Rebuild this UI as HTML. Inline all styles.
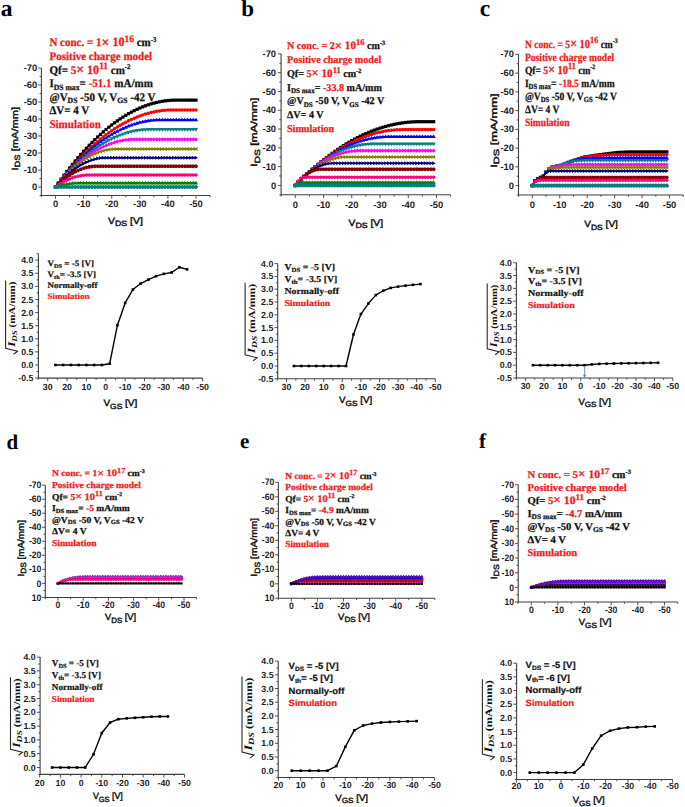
<!DOCTYPE html><html><head><meta charset="utf-8"><style>html,body{margin:0;padding:0;background:#fff;overflow:hidden}svg{display:block}</style></head><body><svg width="685" height="807" viewBox="0 0 685 807" text-rendering="geometricPrecision"><rect width="685" height="807" fill="#fff"/><defs><marker id="m_sq_000000_100" markerUnits="userSpaceOnUse" markerWidth="1" markerHeight="1" refX="0" refY="0" overflow="visible"><g fill="#000000"><rect x="-1.6" y="-1.6" width="3.2" height="3.2"/></g></marker><marker id="m_ci_ff0000_100" markerUnits="userSpaceOnUse" markerWidth="1" markerHeight="1" refX="0" refY="0" overflow="visible"><g fill="#ff0000"><circle r="1.75"/></g></marker><marker id="m_tu_0000ff_100" markerUnits="userSpaceOnUse" markerWidth="1" markerHeight="1" refX="0" refY="0" overflow="visible"><g fill="#0000ff"><path d="M0,-2.1L2,1.5H-2Z"/></g></marker><marker id="m_td_008080_100" markerUnits="userSpaceOnUse" markerWidth="1" markerHeight="1" refX="0" refY="0" overflow="visible"><g fill="#008080"><path d="M0,2.1L2,-1.5H-2Z"/></g></marker><marker id="m_di_ff00ff_100" markerUnits="userSpaceOnUse" markerWidth="1" markerHeight="1" refX="0" refY="0" overflow="visible"><g fill="#ff00ff"><path d="M0,-2.1L1.9,0L0,2.1L-1.9,0Z"/></g></marker><marker id="m_tl_808000_100" markerUnits="userSpaceOnUse" markerWidth="1" markerHeight="1" refX="0" refY="0" overflow="visible"><g fill="#808000"><path d="M-2.1,0L1.5,-2V2Z"/></g></marker><marker id="m_tr_000080_100" markerUnits="userSpaceOnUse" markerWidth="1" markerHeight="1" refX="0" refY="0" overflow="visible"><g fill="#000080"><path d="M2.1,0L-1.5,-2V2Z"/></g></marker><marker id="m_hx_800000_100" markerUnits="userSpaceOnUse" markerWidth="1" markerHeight="1" refX="0" refY="0" overflow="visible"><g fill="#800000"><path d="M-1,-1.8H1L2,0L1,1.8H-1L-2,0Z"/></g></marker><marker id="m_ci_ff0080_100" markerUnits="userSpaceOnUse" markerWidth="1" markerHeight="1" refX="0" refY="0" overflow="visible"><g fill="#ff0080"><circle r="1.75"/></g></marker><marker id="m_tu_008000_100" markerUnits="userSpaceOnUse" markerWidth="1" markerHeight="1" refX="0" refY="0" overflow="visible"><g fill="#008000"><path d="M0,-2.1L2,1.5H-2Z"/></g></marker><marker id="m_di_7a3fd0_100" markerUnits="userSpaceOnUse" markerWidth="1" markerHeight="1" refX="0" refY="0" overflow="visible"><g fill="#7a3fd0"><path d="M0,-2.1L1.9,0L0,2.1L-1.9,0Z"/></g></marker><marker id="m_hx_008080_100" markerUnits="userSpaceOnUse" markerWidth="1" markerHeight="1" refX="0" refY="0" overflow="visible"><g fill="#008080"><path d="M-1,-1.8H1L2,0L1,1.8H-1L-2,0Z"/></g></marker><marker id="m_tr_000080_85" markerUnits="userSpaceOnUse" markerWidth="1" markerHeight="1" refX="0" refY="0" overflow="visible"><g fill="#000080" transform="scale(0.85)"><path d="M2.1,0L-1.5,-2V2Z"/></g></marker><marker id="m_di_7a3fd0_85" markerUnits="userSpaceOnUse" markerWidth="1" markerHeight="1" refX="0" refY="0" overflow="visible"><g fill="#7a3fd0" transform="scale(0.85)"><path d="M0,-2.1L1.9,0L0,2.1L-1.9,0Z"/></g></marker><marker id="m_di_ff00ff_85" markerUnits="userSpaceOnUse" markerWidth="1" markerHeight="1" refX="0" refY="0" overflow="visible"><g fill="#ff00ff" transform="scale(0.85)"><path d="M0,-2.1L1.9,0L0,2.1L-1.9,0Z"/></g></marker><marker id="m_ci_ff0080_85" markerUnits="userSpaceOnUse" markerWidth="1" markerHeight="1" refX="0" refY="0" overflow="visible"><g fill="#ff0080" transform="scale(0.85)"><circle r="1.75"/></g></marker><marker id="m_sm_000000_85" markerUnits="userSpaceOnUse" markerWidth="1" markerHeight="1" refX="0" refY="0" overflow="visible"><g fill="#000000" transform="scale(0.85)"><rect x="-1.35" y="-1.35" width="2.7" height="2.7"/></g></marker><marker id="m_hx_800000_85" markerUnits="userSpaceOnUse" markerWidth="1" markerHeight="1" refX="0" refY="0" overflow="visible"><g fill="#800000" transform="scale(0.85)"><path d="M-1,-1.8H1L2,0L1,1.8H-1L-2,0Z"/></g></marker><marker id="m_ci_ff0000_85" markerUnits="userSpaceOnUse" markerWidth="1" markerHeight="1" refX="0" refY="0" overflow="visible"><g fill="#ff0000" transform="scale(0.85)"><circle r="1.75"/></g></marker><marker id="m_tu_0000ff_85" markerUnits="userSpaceOnUse" markerWidth="1" markerHeight="1" refX="0" refY="0" overflow="visible"><g fill="#0000ff" transform="scale(0.85)"><path d="M0,-2.1L2,1.5H-2Z"/></g></marker><marker id="m_di_5a10b0_85" markerUnits="userSpaceOnUse" markerWidth="1" markerHeight="1" refX="0" refY="0" overflow="visible"><g fill="#5a10b0" transform="scale(0.85)"><path d="M0,-2.1L1.9,0L0,2.1L-1.9,0Z"/></g></marker><marker id="m_tl_808000_85" markerUnits="userSpaceOnUse" markerWidth="1" markerHeight="1" refX="0" refY="0" overflow="visible"><g fill="#808000" transform="scale(0.85)"><path d="M-2.1,0L1.5,-2V2Z"/></g></marker><marker id="m_bs_000000_100" markerUnits="userSpaceOnUse" markerWidth="1" markerHeight="1" refX="0" refY="0" overflow="visible"><g fill="#000000"><rect x="-1.3" y="-1.3" width="2.6" height="2.6"/></g></marker></defs><path d="M41.40,68.00V195.50H210.05" fill="none" stroke="#404040" stroke-width="1.1"/><path d="M38.20,68.00H41.40M38.20,85.00H41.40M38.20,102.00H41.40M38.20,119.00H41.40M38.20,136.00H41.40M38.20,153.00H41.40M38.20,170.00H41.40M38.20,187.00H41.40M39.60,76.50H41.40M39.60,93.50H41.40M39.60,110.50H41.40M39.60,127.50H41.40M39.60,144.50H41.40M39.60,161.50H41.40M39.60,178.50H41.40M39.60,195.50H41.40M55.50,195.50V198.70M83.60,195.50V198.70M111.70,195.50V198.70M139.80,195.50V198.70M167.90,195.50V198.70M196.00,195.50V198.70M41.45,195.50V197.30M69.55,195.50V197.30M97.65,195.50V197.30M125.75,195.50V197.30M153.85,195.50V197.30M181.95,195.50V197.30M210.05,195.50V197.30" fill="none" stroke="#404040" stroke-width="0.9"/><g font-family='"Liberation Sans", sans-serif' font-weight="bold" font-size="9.4" fill="#1c1c1c"><text transform="translate(37.20,71.10) scale(1.0,1)" text-anchor="end">-70</text><text transform="translate(37.20,88.10) scale(1.0,1)" text-anchor="end">-60</text><text transform="translate(37.20,105.10) scale(1.0,1)" text-anchor="end">-50</text><text transform="translate(37.20,122.10) scale(1.0,1)" text-anchor="end">-40</text><text transform="translate(37.20,139.10) scale(1.0,1)" text-anchor="end">-30</text><text transform="translate(37.20,156.10) scale(1.0,1)" text-anchor="end">-20</text><text transform="translate(37.20,173.10) scale(1.0,1)" text-anchor="end">-10</text><text transform="translate(37.20,190.10) scale(1.0,1)" text-anchor="end">0</text><text transform="translate(55.50,207.00) scale(1.0,1)" text-anchor="middle">0</text><text transform="translate(83.60,207.00) scale(1.0,1)" text-anchor="middle">-10</text><text transform="translate(111.70,207.00) scale(1.0,1)" text-anchor="middle">-20</text><text transform="translate(139.80,207.00) scale(1.0,1)" text-anchor="middle">-30</text><text transform="translate(167.90,207.00) scale(1.0,1)" text-anchor="middle">-40</text><text transform="translate(196.00,207.00) scale(1.0,1)" text-anchor="middle">-50</text></g><polyline points="55.50,187.00 58.31,183.01 61.12,179.11 63.93,175.30 66.74,171.59 69.55,167.97 72.36,164.45 75.17,161.02 77.98,157.68 80.79,154.44 83.60,151.29 86.41,148.24 89.22,145.28 92.03,142.41 94.84,139.64 97.65,136.96 100.46,134.38 103.27,131.89 106.08,129.49 108.89,127.19 111.70,124.98 114.51,122.87 117.32,120.85 120.13,118.92 122.94,117.09 125.75,115.35 128.56,113.71 131.37,112.16 134.18,110.70 136.99,109.34 139.80,108.07 142.61,106.90 145.42,105.81 148.23,104.83 151.04,103.94 153.85,103.14 156.66,102.43 159.47,101.82 162.28,101.30 165.09,100.88 167.90,100.55 170.71,100.32 173.52,100.18 176.33,100.13 179.14,100.13 181.95,100.13 184.76,100.13 187.57,100.13 190.38,100.13 193.19,100.13 196.00,100.13" fill="none" stroke="#000000" stroke-width="1.6" stroke-linejoin="round" marker-start="url(#m_sq_000000_100)" marker-mid="url(#m_sq_000000_100)" marker-end="url(#m_sq_000000_100)"/><polyline points="55.50,187.00 58.31,183.33 61.12,179.76 63.93,176.27 66.74,172.87 69.55,169.56 72.36,166.34 75.17,163.21 77.98,160.17 80.79,157.22 83.60,154.36 86.41,151.59 89.22,148.90 92.03,146.31 94.84,143.81 97.65,141.39 100.46,139.07 103.27,136.83 106.08,134.68 108.89,132.63 111.70,130.66 114.51,128.78 117.32,126.99 120.13,125.29 122.94,123.68 125.75,122.16 128.56,120.73 131.37,119.39 134.18,118.14 136.99,116.98 139.80,115.90 142.61,114.92 145.42,114.03 148.23,113.22 151.04,112.51 153.85,111.88 156.66,111.34 159.47,110.90 162.28,110.54 165.09,110.27 167.90,110.09 170.71,110.00 173.52,109.99 176.33,109.99 179.14,109.99 181.95,109.99 184.76,109.99 187.57,109.99 190.38,109.99 193.19,109.99 196.00,109.99" fill="none" stroke="#ff0000" stroke-width="1.6" stroke-linejoin="round" marker-start="url(#m_ci_ff0000_100)" marker-mid="url(#m_ci_ff0000_100)" marker-end="url(#m_ci_ff0000_100)"/><polyline points="55.50,187.00 58.31,183.46 61.12,180.01 63.93,176.66 66.74,173.40 69.55,170.24 72.36,167.18 75.17,164.21 77.98,161.34 80.79,158.56 83.60,155.88 86.41,153.30 89.22,150.81 92.03,148.42 94.84,146.12 97.65,143.92 100.46,141.81 103.27,139.80 106.08,137.88 108.89,136.06 111.70,134.34 114.51,132.71 117.32,131.18 120.13,129.75 122.94,128.40 125.75,127.16 128.56,126.01 131.37,124.96 134.18,124.00 136.99,123.14 139.80,122.37 142.61,121.70 145.42,121.13 148.23,120.65 151.04,120.27 153.85,119.98 156.66,119.79 159.47,119.69 162.28,119.68 165.09,119.68 167.90,119.68 170.71,119.68 173.52,119.68 176.33,119.68 179.14,119.68 181.95,119.68 184.76,119.68 187.57,119.68 190.38,119.68 193.19,119.68 196.00,119.68" fill="none" stroke="#0000ff" stroke-width="1.6" stroke-linejoin="round" marker-start="url(#m_tu_0000ff_100)" marker-mid="url(#m_tu_0000ff_100)" marker-end="url(#m_tu_0000ff_100)"/><polyline points="55.50,187.00 58.31,183.62 61.12,180.34 63.93,177.17 66.74,174.10 69.55,171.13 72.36,168.26 75.17,165.50 77.98,162.83 80.79,160.27 83.60,157.82 86.41,155.46 89.22,153.21 92.03,151.06 94.84,149.01 97.65,147.06 100.46,145.22 103.27,143.48 106.08,141.84 108.89,140.30 111.70,138.87 114.51,137.54 117.32,136.31 120.13,135.18 122.94,134.16 125.75,133.24 128.56,132.42 131.37,131.70 134.18,131.09 136.99,130.58 139.80,130.17 142.61,129.86 145.42,129.66 148.23,129.55 151.04,129.54 153.85,129.54 156.66,129.54 159.47,129.54 162.28,129.54 165.09,129.54 167.90,129.54 170.71,129.54 173.52,129.54 176.33,129.54 179.14,129.54 181.95,129.54 184.76,129.54 187.57,129.54 190.38,129.54 193.19,129.54 196.00,129.54" fill="none" stroke="#008080" stroke-width="1.6" stroke-linejoin="round" marker-start="url(#m_td_008080_100)" marker-mid="url(#m_td_008080_100)" marker-end="url(#m_td_008080_100)"/><polyline points="55.50,187.00 58.31,183.66 61.12,180.44 63.93,177.35 66.74,174.37 69.55,171.52 72.36,168.79 75.17,166.18 77.98,163.69 80.79,161.32 83.60,159.07 86.41,156.95 89.22,154.94 92.03,153.06 94.84,151.30 97.65,149.66 100.46,148.14 103.27,146.75 106.08,145.47 108.89,144.32 111.70,143.29 114.51,142.38 117.32,141.59 120.13,140.92 122.94,140.37 125.75,139.95 128.56,139.64 131.37,139.46 134.18,139.40 136.99,139.40 139.80,139.40 142.61,139.40 145.42,139.40 148.23,139.40 151.04,139.40 153.85,139.40 156.66,139.40 159.47,139.40 162.28,139.40 165.09,139.40 167.90,139.40 170.71,139.40 173.52,139.40 176.33,139.40 179.14,139.40 181.95,139.40 184.76,139.40 187.57,139.40 190.38,139.40 193.19,139.40 196.00,139.40" fill="none" stroke="#ff00ff" stroke-width="1.6" stroke-linejoin="round" marker-start="url(#m_di_ff00ff_100)" marker-mid="url(#m_di_ff00ff_100)" marker-end="url(#m_di_ff00ff_100)"/><polyline points="55.50,187.00 58.31,183.56 61.12,180.28 63.93,177.16 66.74,174.21 69.55,171.42 72.36,168.79 75.17,166.33 77.98,164.04 80.79,161.90 83.60,159.94 86.41,158.13 89.22,156.49 92.03,155.02 94.84,153.70 97.65,152.56 100.46,151.57 103.27,150.75 106.08,150.09 108.89,149.60 111.70,149.27 114.51,149.11 117.32,149.09 120.13,149.09 122.94,149.09 125.75,149.09 128.56,149.09 131.37,149.09 134.18,149.09 136.99,149.09 139.80,149.09 142.61,149.09 145.42,149.09 148.23,149.09 151.04,149.09 153.85,149.09 156.66,149.09 159.47,149.09 162.28,149.09 165.09,149.09 167.90,149.09 170.71,149.09 173.52,149.09 176.33,149.09 179.14,149.09 181.95,149.09 184.76,149.09 187.57,149.09 190.38,149.09 193.19,149.09 196.00,149.09" fill="none" stroke="#808000" stroke-width="1.6" stroke-linejoin="round" marker-start="url(#m_tl_808000_100)" marker-mid="url(#m_tl_808000_100)" marker-end="url(#m_tl_808000_100)"/><polyline points="55.50,187.00 58.31,183.84 61.12,180.86 63.93,178.07 66.74,175.45 69.55,173.01 72.36,170.76 75.17,168.68 77.98,166.78 80.79,165.07 83.60,163.54 86.41,162.18 89.22,161.01 92.03,160.02 94.84,159.20 97.65,158.57 100.46,158.12 103.27,157.85 106.08,157.76 108.89,157.76 111.70,157.76 114.51,157.76 117.32,157.76 120.13,157.76 122.94,157.76 125.75,157.76 128.56,157.76 131.37,157.76 134.18,157.76 136.99,157.76 139.80,157.76 142.61,157.76 145.42,157.76 148.23,157.76 151.04,157.76 153.85,157.76 156.66,157.76 159.47,157.76 162.28,157.76 165.09,157.76 167.90,157.76 170.71,157.76 173.52,157.76 176.33,157.76 179.14,157.76 181.95,157.76 184.76,157.76 187.57,157.76 190.38,157.76 193.19,157.76 196.00,157.76" fill="none" stroke="#000080" stroke-width="1.6" stroke-linejoin="round" marker-start="url(#m_tr_000080_100)" marker-mid="url(#m_tr_000080_100)" marker-end="url(#m_tr_000080_100)"/><polyline points="55.50,187.00 58.31,184.24 61.12,181.67 63.93,179.31 66.74,177.14 69.55,175.16 72.36,173.39 75.17,171.81 77.98,170.43 80.79,169.24 83.60,168.26 86.41,167.47 89.22,166.88 92.03,166.48 94.84,166.28 97.65,166.26 100.46,166.26 103.27,166.26 106.08,166.26 108.89,166.26 111.70,166.26 114.51,166.26 117.32,166.26 120.13,166.26 122.94,166.26 125.75,166.26 128.56,166.26 131.37,166.26 134.18,166.26 136.99,166.26 139.80,166.26 142.61,166.26 145.42,166.26 148.23,166.26 151.04,166.26 153.85,166.26 156.66,166.26 159.47,166.26 162.28,166.26 165.09,166.26 167.90,166.26 170.71,166.26 173.52,166.26 176.33,166.26 179.14,166.26 181.95,166.26 184.76,166.26 187.57,166.26 190.38,166.26 193.19,166.26 196.00,166.26" fill="none" stroke="#800000" stroke-width="1.6" stroke-linejoin="round" marker-start="url(#m_hx_800000_100)" marker-mid="url(#m_hx_800000_100)" marker-end="url(#m_hx_800000_100)"/><polyline points="55.50,187.00 58.31,185.02 61.12,183.22 63.93,181.60 66.74,180.16 69.55,178.90 72.36,177.82 75.17,176.92 77.98,176.20 80.79,175.66 83.60,175.30 86.41,175.12 89.22,175.10 92.03,175.10 94.84,175.10 97.65,175.10 100.46,175.10 103.27,175.10 106.08,175.10 108.89,175.10 111.70,175.10 114.51,175.10 117.32,175.10 120.13,175.10 122.94,175.10 125.75,175.10 128.56,175.10 131.37,175.10 134.18,175.10 136.99,175.10 139.80,175.10 142.61,175.10 145.42,175.10 148.23,175.10 151.04,175.10 153.85,175.10 156.66,175.10 159.47,175.10 162.28,175.10 165.09,175.10 167.90,175.10 170.71,175.10 173.52,175.10 176.33,175.10 179.14,175.10 181.95,175.10 184.76,175.10 187.57,175.10 190.38,175.10 193.19,175.10 196.00,175.10" fill="none" stroke="#ff0080" stroke-width="1.6" stroke-linejoin="round" marker-start="url(#m_ci_ff0080_100)" marker-mid="url(#m_ci_ff0080_100)" marker-end="url(#m_ci_ff0080_100)"/><polyline points="55.50,187.00 58.31,186.04 61.12,185.22 63.93,184.51 66.74,183.94 69.55,183.49 72.36,183.18 75.17,182.98 77.98,182.92 80.79,182.92 83.60,182.92 86.41,182.92 89.22,182.92 92.03,182.92 94.84,182.92 97.65,182.92 100.46,182.92 103.27,182.92 106.08,182.92 108.89,182.92 111.70,182.92 114.51,182.92 117.32,182.92 120.13,182.92 122.94,182.92 125.75,182.92 128.56,182.92 131.37,182.92 134.18,182.92 136.99,182.92 139.80,182.92 142.61,182.92 145.42,182.92 148.23,182.92 151.04,182.92 153.85,182.92 156.66,182.92 159.47,182.92 162.28,182.92 165.09,182.92 167.90,182.92 170.71,182.92 173.52,182.92 176.33,182.92 179.14,182.92 181.95,182.92 184.76,182.92 187.57,182.92 190.38,182.92 193.19,182.92 196.00,182.92" fill="none" stroke="#008000" stroke-width="1.6" stroke-linejoin="round" marker-start="url(#m_tu_008000_100)" marker-mid="url(#m_tu_008000_100)" marker-end="url(#m_tu_008000_100)"/><polyline points="55.50,187.00 58.31,187.00 61.12,187.00 63.93,187.00 66.74,187.00 69.55,187.00 72.36,187.00 75.17,187.00 77.98,187.00 80.79,187.00 83.60,187.00 86.41,187.00 89.22,187.00 92.03,187.00 94.84,187.00 97.65,187.00 100.46,187.00 103.27,187.00 106.08,187.00 108.89,187.00 111.70,187.00 114.51,187.00 117.32,187.00 120.13,187.00 122.94,187.00 125.75,187.00 128.56,187.00 131.37,187.00 134.18,187.00 136.99,187.00 139.80,187.00 142.61,187.00 145.42,187.00 148.23,187.00 151.04,187.00 153.85,187.00 156.66,187.00 159.47,187.00 162.28,187.00 165.09,187.00 167.90,187.00 170.71,187.00 173.52,187.00 176.33,187.00 179.14,187.00 181.95,187.00 184.76,187.00 187.57,187.00 190.38,187.00 193.19,187.00 196.00,187.00" fill="none" stroke="#7a3fd0" stroke-width="1.6" stroke-linejoin="round" marker-start="url(#m_di_7a3fd0_100)" marker-mid="url(#m_di_7a3fd0_100)" marker-end="url(#m_di_7a3fd0_100)"/><polyline points="55.50,187.00 58.31,187.00 61.12,187.00 63.93,187.00 66.74,187.00 69.55,187.00 72.36,187.00 75.17,187.00 77.98,187.00 80.79,187.00 83.60,187.00 86.41,187.00 89.22,187.00 92.03,187.00 94.84,187.00 97.65,187.00 100.46,187.00 103.27,187.00 106.08,187.00 108.89,187.00 111.70,187.00 114.51,187.00 117.32,187.00 120.13,187.00 122.94,187.00 125.75,187.00 128.56,187.00 131.37,187.00 134.18,187.00 136.99,187.00 139.80,187.00 142.61,187.00 145.42,187.00 148.23,187.00 151.04,187.00 153.85,187.00 156.66,187.00 159.47,187.00 162.28,187.00 165.09,187.00 167.90,187.00 170.71,187.00 173.52,187.00 176.33,187.00 179.14,187.00 181.95,187.00 184.76,187.00 187.57,187.00 190.38,187.00 193.19,187.00 196.00,187.00" fill="none" stroke="#008080" stroke-width="1.6" stroke-linejoin="round" marker-start="url(#m_hx_008080_100)" marker-mid="url(#m_hx_008080_100)" marker-end="url(#m_hx_008080_100)"/><g transform="translate(49.40,46.40) scale(0.9497,1.0000)"><text font-family='"Liberation Serif", serif' font-weight="bold" xml:space="preserve"><tspan x="0.00" y="0.00" fill="#f21818" font-size="11.60" stroke="#f21818" stroke-width="0.25">N conc. = 1</tspan><tspan x="54.94" y="0.58" fill="#f21818" font-size="14.50" stroke="#f21818" stroke-width="0.25">×</tspan><tspan x="63.20" y="0.00" fill="#f21818" font-size="12.76" stroke="#f21818" stroke-width="0.25"> 10</tspan><tspan x="79.15" y="-4.64" fill="#f21818" font-size="9.86" stroke="#f21818" stroke-width="0.25">16</tspan><tspan x="89.01" y="0.00" fill="#111" font-size="11.60" stroke="#111" stroke-width="0.25"> cm</tspan><tspan x="106.72" y="-4.41" fill="#111" font-size="7.19" stroke="#111" stroke-width="0.25">-3</tspan></text></g><g transform="translate(49.40,60.00) scale(0.9497,1.0000)"><text font-family='"Liberation Serif", serif' font-weight="bold" xml:space="preserve"><tspan x="0.00" y="0.00" fill="#f21818" font-size="11.60" stroke="#f21818" stroke-width="0.25">Positive charge model</tspan></text></g><g transform="translate(49.40,73.60) scale(0.9497,1.0000)"><text font-family='"Liberation Serif", serif' font-weight="bold" xml:space="preserve"><tspan x="0.00" y="0.00" fill="#111" font-size="11.60" stroke="#111" stroke-width="0.25">Qf= </tspan><tspan x="22.40" y="0.00" fill="#f21818" font-size="11.60" stroke="#f21818" stroke-width="0.25">5</tspan><tspan x="28.20" y="0.58" fill="#f21818" font-size="14.50" stroke="#f21818" stroke-width="0.25">×</tspan><tspan x="36.46" y="0.00" fill="#f21818" font-size="12.76" stroke="#f21818" stroke-width="0.25"> 10</tspan><tspan x="52.41" y="-4.64" fill="#f21818" font-size="9.86" stroke="#f21818" stroke-width="0.25">11</tspan><tspan x="61.72" y="0.00" fill="#111" font-size="11.60" stroke="#111" stroke-width="0.25"> cm</tspan><tspan x="79.44" y="-4.41" fill="#111" font-size="7.19" stroke="#111" stroke-width="0.25">-2</tspan></text></g><g transform="translate(49.40,87.20) scale(0.9497,1.0000)"><text font-family='"Liberation Serif", serif' font-weight="bold" xml:space="preserve"><tspan x="0.00" y="0.00" fill="#111" font-size="11.60" stroke="#111" stroke-width="0.25">I</tspan><tspan x="4.51" y="2.32" fill="#111" font-size="8.12" stroke="#111" stroke-width="0.25">DS max</tspan><tspan x="31.81" y="0.00" fill="#111" font-size="11.60" stroke="#111" stroke-width="0.25">= </tspan><tspan x="41.32" y="0.00" fill="#f21818" font-size="11.60" stroke="#f21818" stroke-width="0.25">-51.1</tspan><tspan x="65.48" y="0.00" fill="#111" font-size="11.60" stroke="#111" stroke-width="0.25"> mA/mm</tspan></text></g><g transform="translate(49.40,100.80) scale(0.9497,1.0000)"><text font-family='"Liberation Serif", serif' font-weight="bold" xml:space="preserve"><tspan x="0.00" y="0.00" fill="#111" font-size="11.60" stroke="#111" stroke-width="0.25">@V</tspan><tspan x="19.17" y="2.32" fill="#111" font-size="8.12" stroke="#111" stroke-width="0.25">DS</tspan><tspan x="29.55" y="0.00" fill="#111" font-size="11.60" stroke="#111" stroke-width="0.25"> -50 V, V</tspan><tspan x="71.45" y="2.32" fill="#111" font-size="8.12" stroke="#111" stroke-width="0.25">GS</tspan><tspan x="82.28" y="0.00" fill="#111" font-size="11.60" stroke="#111" stroke-width="0.25"> -42 V</tspan></text></g><g transform="translate(49.40,114.40) scale(0.9497,1.0000)"><text font-family='"Liberation Serif", serif' font-weight="bold" xml:space="preserve"><tspan x="0.00" y="0.00" fill="#111" font-size="11.60" stroke="#111" stroke-width="0.25">ΔV= 4 V</tspan></text></g><g transform="translate(49.40,128.00) scale(0.9497,1.0000)"><text font-family='"Liberation Serif", serif' font-weight="bold" xml:space="preserve"><tspan x="0.00" y="0.00" fill="#f21818" font-size="11.60" stroke="#f21818" stroke-width="0.25">Simulation</tspan></text></g><text x="0.8" y="16" font-family='"Liberation Serif", serif' font-weight="bold" font-size="23.5" fill="#000">a</text><g transform="translate(17.80,170.50) rotate(-90) scale(1.2301,1.0000)"><text font-family='"Liberation Sans", sans-serif' font-weight="normal" xml:space="preserve"><tspan x="0.00" y="0.00" fill="#111" font-size="9.00" stroke="#111" stroke-width="0.4">I</tspan><tspan x="2.50" y="2.52" fill="#111" font-size="7.65" stroke="#111" stroke-width="0.4">DS</tspan><tspan x="13.13" y="0.00" fill="#111" font-size="9.00" stroke="#111" stroke-width="0.4"> [mA/mm]</tspan></text></g><g transform="translate(108.10,223.60) scale(1.1515,1.0000)"><text font-family='"Liberation Sans", sans-serif' font-weight="normal" xml:space="preserve"><tspan x="0.00" y="0.00" fill="#111" font-size="9.00" stroke="#111" stroke-width="0.4">V</tspan><tspan x="6.00" y="2.52" fill="#111" font-size="7.65" stroke="#111" stroke-width="0.4">DS</tspan><tspan x="16.63" y="0.00" fill="#111" font-size="9.00" stroke="#111" stroke-width="0.4"> [V]</tspan></text></g><path d="M281.10,53.87V194.80H450.62" fill="none" stroke="#404040" stroke-width="1.1"/><path d="M277.90,53.87H281.10M277.90,72.66H281.10M277.90,91.45H281.10M277.90,110.24H281.10M277.90,129.03H281.10M277.90,147.82H281.10M277.90,166.61H281.10M277.90,185.40H281.10M279.30,63.27H281.10M279.30,82.06H281.10M279.30,100.84H281.10M279.30,119.64H281.10M279.30,138.43H281.10M279.30,157.22H281.10M279.30,176.00H281.10M279.30,194.80H281.10M295.30,194.80V198.00M323.54,194.80V198.00M351.78,194.80V198.00M380.02,194.80V198.00M408.26,194.80V198.00M436.50,194.80V198.00M281.18,194.80V196.60M309.42,194.80V196.60M337.66,194.80V196.60M365.90,194.80V196.60M394.14,194.80V196.60M422.38,194.80V196.60M450.62,194.80V196.60" fill="none" stroke="#404040" stroke-width="0.9"/><g font-family='"Liberation Sans", sans-serif' font-weight="bold" font-size="9.4" fill="#1c1c1c"><text transform="translate(276.10,56.97) scale(1.0,1)" text-anchor="end">-70</text><text transform="translate(276.10,75.76) scale(1.0,1)" text-anchor="end">-60</text><text transform="translate(276.10,94.55) scale(1.0,1)" text-anchor="end">-50</text><text transform="translate(276.10,113.34) scale(1.0,1)" text-anchor="end">-40</text><text transform="translate(276.10,132.13) scale(1.0,1)" text-anchor="end">-30</text><text transform="translate(276.10,150.92) scale(1.0,1)" text-anchor="end">-20</text><text transform="translate(276.10,169.71) scale(1.0,1)" text-anchor="end">-10</text><text transform="translate(276.10,188.50) scale(1.0,1)" text-anchor="end">0</text><text transform="translate(295.30,207.60) scale(1.0,1)" text-anchor="middle">0</text><text transform="translate(323.54,207.60) scale(1.0,1)" text-anchor="middle">-10</text><text transform="translate(351.78,207.60) scale(1.0,1)" text-anchor="middle">-20</text><text transform="translate(380.02,207.60) scale(1.0,1)" text-anchor="middle">-30</text><text transform="translate(408.26,207.60) scale(1.0,1)" text-anchor="middle">-40</text><text transform="translate(436.50,207.60) scale(1.0,1)" text-anchor="middle">-50</text></g><polyline points="295.30,185.40 298.12,182.54 300.95,179.74 303.77,177.01 306.60,174.34 309.42,171.74 312.24,169.21 315.07,166.74 317.89,164.34 320.72,162.00 323.54,159.73 326.36,157.52 329.19,155.38 332.01,153.31 334.84,151.30 337.66,149.36 340.48,147.49 343.31,145.68 346.13,143.93 348.96,142.25 351.78,140.64 354.60,139.10 357.43,137.61 360.25,136.20 363.08,134.85 365.90,133.57 368.72,132.35 371.55,131.20 374.37,130.11 377.20,129.09 380.02,128.14 382.84,127.25 385.67,126.43 388.49,125.67 391.32,124.98 394.14,124.36 396.96,123.80 399.79,123.31 402.61,122.88 405.44,122.52 408.26,122.22 411.08,122.00 413.91,121.83 416.73,121.73 419.56,121.70 422.38,121.70 425.20,121.70 428.03,121.70 430.85,121.70 433.68,121.70" fill="none" stroke="#000000" stroke-width="1.6" stroke-linejoin="round" marker-start="url(#m_sq_000000_100)" marker-mid="url(#m_sq_000000_100)" marker-end="url(#m_sq_000000_100)"/><polyline points="295.30,185.40 298.12,182.51 300.95,179.71 303.77,176.97 306.60,174.32 309.42,171.74 312.24,169.24 315.07,166.81 317.89,164.46 320.72,162.19 323.54,159.99 326.36,157.87 329.19,155.83 332.01,153.86 334.84,151.97 337.66,150.16 340.48,148.42 343.31,146.76 346.13,145.18 348.96,143.67 351.78,142.24 354.60,140.89 357.43,139.61 360.25,138.41 363.08,137.29 365.90,136.24 368.72,135.27 371.55,134.38 374.37,133.56 377.20,132.82 380.02,132.15 382.84,131.57 385.67,131.05 388.49,130.62 391.32,130.26 394.14,129.98 396.96,129.77 399.79,129.65 402.61,129.59 405.44,129.59 408.26,129.59 411.08,129.59 413.91,129.59 416.73,129.59 419.56,129.59 422.38,129.59 425.20,129.59 428.03,129.59 430.85,129.59 433.68,129.59" fill="none" stroke="#ff0000" stroke-width="1.6" stroke-linejoin="round" marker-start="url(#m_ci_ff0000_100)" marker-mid="url(#m_ci_ff0000_100)" marker-end="url(#m_ci_ff0000_100)"/><polyline points="295.30,185.40 298.12,182.49 300.95,179.67 303.77,176.94 306.60,174.29 309.42,171.74 312.24,169.28 315.07,166.90 317.89,164.62 320.72,162.42 323.54,160.31 326.36,158.30 329.19,156.37 332.01,154.53 334.84,152.78 337.66,151.12 340.48,149.55 343.31,148.07 346.13,146.68 348.96,145.38 351.78,144.17 354.60,143.05 357.43,142.01 360.25,141.07 363.08,140.21 365.90,139.45 368.72,138.77 371.55,138.19 374.37,137.69 377.20,137.28 380.02,136.96 382.84,136.74 385.67,136.60 388.49,136.55 391.32,136.55 394.14,136.55 396.96,136.55 399.79,136.55 402.61,136.55 405.44,136.55 408.26,136.55 411.08,136.55 413.91,136.55 416.73,136.55 419.56,136.55 422.38,136.55 425.20,136.55 428.03,136.55 430.85,136.55 433.68,136.55" fill="none" stroke="#0000ff" stroke-width="1.6" stroke-linejoin="round" marker-start="url(#m_tu_0000ff_100)" marker-mid="url(#m_tu_0000ff_100)" marker-end="url(#m_tu_0000ff_100)"/><polyline points="295.30,185.40 298.12,182.45 300.95,179.61 303.77,176.88 306.60,174.26 309.42,171.75 312.24,169.34 315.07,167.05 317.89,164.86 320.72,162.79 323.54,160.82 326.36,158.96 329.19,157.21 332.01,155.57 334.84,154.04 337.66,152.62 340.48,151.31 343.31,150.11 346.13,149.01 348.96,148.03 351.78,147.15 354.60,146.39 357.43,145.73 360.25,145.18 363.08,144.74 365.90,144.41 368.72,144.19 371.55,144.08 374.37,144.06 377.20,144.06 380.02,144.06 382.84,144.06 385.67,144.06 388.49,144.06 391.32,144.06 394.14,144.06 396.96,144.06 399.79,144.06 402.61,144.06 405.44,144.06 408.26,144.06 411.08,144.06 413.91,144.06 416.73,144.06 419.56,144.06 422.38,144.06 425.20,144.06 428.03,144.06 430.85,144.06 433.68,144.06" fill="none" stroke="#008080" stroke-width="1.6" stroke-linejoin="round" marker-start="url(#m_td_008080_100)" marker-mid="url(#m_td_008080_100)" marker-end="url(#m_td_008080_100)"/><polyline points="295.30,185.40 298.12,182.40 300.95,179.54 303.77,176.81 306.60,174.22 309.42,171.77 312.24,169.44 315.07,167.26 317.89,165.21 320.72,163.29 323.54,161.51 326.36,159.86 329.19,158.35 332.01,156.97 334.84,155.73 337.66,154.63 340.48,153.66 343.31,152.82 346.13,152.12 348.96,151.56 351.78,151.13 354.60,150.83 357.43,150.67 360.25,150.64 363.08,150.64 365.90,150.64 368.72,150.64 371.55,150.64 374.37,150.64 377.20,150.64 380.02,150.64 382.84,150.64 385.67,150.64 388.49,150.64 391.32,150.64 394.14,150.64 396.96,150.64 399.79,150.64 402.61,150.64 405.44,150.64 408.26,150.64 411.08,150.64 413.91,150.64 416.73,150.64 419.56,150.64 422.38,150.64 425.20,150.64 428.03,150.64 430.85,150.64 433.68,150.64" fill="none" stroke="#ff00ff" stroke-width="1.6" stroke-linejoin="round" marker-start="url(#m_di_ff00ff_100)" marker-mid="url(#m_di_ff00ff_100)" marker-end="url(#m_di_ff00ff_100)"/><polyline points="295.30,185.40 298.12,182.33 300.95,179.44 303.77,176.72 306.60,174.18 309.42,171.82 312.24,169.63 315.07,167.61 317.89,165.77 320.72,164.11 323.54,162.62 326.36,161.31 329.19,160.17 332.01,159.21 334.84,158.42 337.66,157.81 340.48,157.37 343.31,157.11 346.13,157.03 348.96,157.03 351.78,157.03 354.60,157.03 357.43,157.03 360.25,157.03 363.08,157.03 365.90,157.03 368.72,157.03 371.55,157.03 374.37,157.03 377.20,157.03 380.02,157.03 382.84,157.03 385.67,157.03 388.49,157.03 391.32,157.03 394.14,157.03 396.96,157.03 399.79,157.03 402.61,157.03 405.44,157.03 408.26,157.03 411.08,157.03 413.91,157.03 416.73,157.03 419.56,157.03 422.38,157.03 425.20,157.03 428.03,157.03 430.85,157.03 433.68,157.03" fill="none" stroke="#808000" stroke-width="1.6" stroke-linejoin="round" marker-start="url(#m_tl_808000_100)" marker-mid="url(#m_tl_808000_100)" marker-end="url(#m_tl_808000_100)"/><polyline points="295.30,185.40 298.12,182.22 300.95,179.28 303.77,176.59 306.60,174.15 309.42,171.96 312.24,170.01 315.07,168.30 317.89,166.84 320.72,165.63 323.54,164.67 326.36,163.95 329.19,163.48 332.01,163.25 334.84,163.23 337.66,163.23 340.48,163.23 343.31,163.23 346.13,163.23 348.96,163.23 351.78,163.23 354.60,163.23 357.43,163.23 360.25,163.23 363.08,163.23 365.90,163.23 368.72,163.23 371.55,163.23 374.37,163.23 377.20,163.23 380.02,163.23 382.84,163.23 385.67,163.23 388.49,163.23 391.32,163.23 394.14,163.23 396.96,163.23 399.79,163.23 402.61,163.23 405.44,163.23 408.26,163.23 411.08,163.23 413.91,163.23 416.73,163.23 419.56,163.23 422.38,163.23 425.20,163.23 428.03,163.23 430.85,163.23 433.68,163.23" fill="none" stroke="#000080" stroke-width="1.6" stroke-linejoin="round" marker-start="url(#m_tr_000080_100)" marker-mid="url(#m_tr_000080_100)" marker-end="url(#m_tr_000080_100)"/><polyline points="295.30,185.40 298.12,182.01 300.95,179.01 303.77,176.42 306.60,174.22 309.42,172.43 312.24,171.03 315.07,170.03 317.89,169.44 320.72,169.24 323.54,169.24 326.36,169.24 329.19,169.24 332.01,169.24 334.84,169.24 337.66,169.24 340.48,169.24 343.31,169.24 346.13,169.24 348.96,169.24 351.78,169.24 354.60,169.24 357.43,169.24 360.25,169.24 363.08,169.24 365.90,169.24 368.72,169.24 371.55,169.24 374.37,169.24 377.20,169.24 380.02,169.24 382.84,169.24 385.67,169.24 388.49,169.24 391.32,169.24 394.14,169.24 396.96,169.24 399.79,169.24 402.61,169.24 405.44,169.24 408.26,169.24 411.08,169.24 413.91,169.24 416.73,169.24 419.56,169.24 422.38,169.24 425.20,169.24 428.03,169.24 430.85,169.24 433.68,169.24" fill="none" stroke="#800000" stroke-width="1.6" stroke-linejoin="round" marker-start="url(#m_hx_800000_100)" marker-mid="url(#m_hx_800000_100)" marker-end="url(#m_hx_800000_100)"/><polyline points="295.30,185.40 298.12,180.97 300.95,178.27 303.77,177.32 306.60,177.32 309.42,177.32 312.24,177.32 315.07,177.32 317.89,177.32 320.72,177.32 323.54,177.32 326.36,177.32 329.19,177.32 332.01,177.32 334.84,177.32 337.66,177.32 340.48,177.32 343.31,177.32 346.13,177.32 348.96,177.32 351.78,177.32 354.60,177.32 357.43,177.32 360.25,177.32 363.08,177.32 365.90,177.32 368.72,177.32 371.55,177.32 374.37,177.32 377.20,177.32 380.02,177.32 382.84,177.32 385.67,177.32 388.49,177.32 391.32,177.32 394.14,177.32 396.96,177.32 399.79,177.32 402.61,177.32 405.44,177.32 408.26,177.32 411.08,177.32 413.91,177.32 416.73,177.32 419.56,177.32 422.38,177.32 425.20,177.32 428.03,177.32 430.85,177.32 433.68,177.32" fill="none" stroke="#ff0080" stroke-width="1.6" stroke-linejoin="round" marker-start="url(#m_ci_ff0080_100)" marker-mid="url(#m_ci_ff0080_100)" marker-end="url(#m_ci_ff0080_100)"/><polyline points="295.30,185.40 298.12,183.15 300.95,182.39 303.77,182.39 306.60,182.39 309.42,182.39 312.24,182.39 315.07,182.39 317.89,182.39 320.72,182.39 323.54,182.39 326.36,182.39 329.19,182.39 332.01,182.39 334.84,182.39 337.66,182.39 340.48,182.39 343.31,182.39 346.13,182.39 348.96,182.39 351.78,182.39 354.60,182.39 357.43,182.39 360.25,182.39 363.08,182.39 365.90,182.39 368.72,182.39 371.55,182.39 374.37,182.39 377.20,182.39 380.02,182.39 382.84,182.39 385.67,182.39 388.49,182.39 391.32,182.39 394.14,182.39 396.96,182.39 399.79,182.39 402.61,182.39 405.44,182.39 408.26,182.39 411.08,182.39 413.91,182.39 416.73,182.39 419.56,182.39 422.38,182.39 425.20,182.39 428.03,182.39 430.85,182.39 433.68,182.39" fill="none" stroke="#008000" stroke-width="1.6" stroke-linejoin="round" marker-start="url(#m_tu_008000_100)" marker-mid="url(#m_tu_008000_100)" marker-end="url(#m_tu_008000_100)"/><polyline points="295.30,185.40 298.12,185.40 300.95,185.40 303.77,185.40 306.60,185.40 309.42,185.40 312.24,185.40 315.07,185.40 317.89,185.40 320.72,185.40 323.54,185.40 326.36,185.40 329.19,185.40 332.01,185.40 334.84,185.40 337.66,185.40 340.48,185.40 343.31,185.40 346.13,185.40 348.96,185.40 351.78,185.40 354.60,185.40 357.43,185.40 360.25,185.40 363.08,185.40 365.90,185.40 368.72,185.40 371.55,185.40 374.37,185.40 377.20,185.40 380.02,185.40 382.84,185.40 385.67,185.40 388.49,185.40 391.32,185.40 394.14,185.40 396.96,185.40 399.79,185.40 402.61,185.40 405.44,185.40 408.26,185.40 411.08,185.40 413.91,185.40 416.73,185.40 419.56,185.40 422.38,185.40 425.20,185.40 428.03,185.40 430.85,185.40 433.68,185.40" fill="none" stroke="#7a3fd0" stroke-width="1.6" stroke-linejoin="round" marker-start="url(#m_di_7a3fd0_100)" marker-mid="url(#m_di_7a3fd0_100)" marker-end="url(#m_di_7a3fd0_100)"/><polyline points="295.30,185.40 298.12,185.40 300.95,185.40 303.77,185.40 306.60,185.40 309.42,185.40 312.24,185.40 315.07,185.40 317.89,185.40 320.72,185.40 323.54,185.40 326.36,185.40 329.19,185.40 332.01,185.40 334.84,185.40 337.66,185.40 340.48,185.40 343.31,185.40 346.13,185.40 348.96,185.40 351.78,185.40 354.60,185.40 357.43,185.40 360.25,185.40 363.08,185.40 365.90,185.40 368.72,185.40 371.55,185.40 374.37,185.40 377.20,185.40 380.02,185.40 382.84,185.40 385.67,185.40 388.49,185.40 391.32,185.40 394.14,185.40 396.96,185.40 399.79,185.40 402.61,185.40 405.44,185.40 408.26,185.40 411.08,185.40 413.91,185.40 416.73,185.40 419.56,185.40 422.38,185.40 425.20,185.40 428.03,185.40 430.85,185.40 433.68,185.40" fill="none" stroke="#008080" stroke-width="1.6" stroke-linejoin="round" marker-start="url(#m_hx_008080_100)" marker-mid="url(#m_hx_008080_100)" marker-end="url(#m_hx_008080_100)"/><g transform="translate(287.00,49.40) scale(0.9717,1.0000)"><text font-family='"Liberation Serif", serif' font-weight="bold" xml:space="preserve"><tspan x="0.00" y="0.00" fill="#f21818" font-size="10.40" stroke="#f21818" stroke-width="0.25">N conc. = 2</tspan><tspan x="49.25" y="0.52" fill="#f21818" font-size="13.00" stroke="#f21818" stroke-width="0.25">×</tspan><tspan x="56.66" y="0.00" fill="#f21818" font-size="11.44" stroke="#f21818" stroke-width="0.25"> 10</tspan><tspan x="70.96" y="-4.16" fill="#f21818" font-size="8.84" stroke="#f21818" stroke-width="0.25">16</tspan><tspan x="79.80" y="0.00" fill="#111" font-size="10.40" stroke="#111" stroke-width="0.25"> cm</tspan><tspan x="95.68" y="-3.95" fill="#111" font-size="6.45" stroke="#111" stroke-width="0.25">-3</tspan></text></g><g transform="translate(287.00,63.17) scale(0.9717,1.0000)"><text font-family='"Liberation Serif", serif' font-weight="bold" xml:space="preserve"><tspan x="0.00" y="0.00" fill="#f21818" font-size="10.40" stroke="#f21818" stroke-width="0.25">Positive charge model</tspan></text></g><g transform="translate(287.00,76.94) scale(0.9717,1.0000)"><text font-family='"Liberation Serif", serif' font-weight="bold" xml:space="preserve"><tspan x="0.00" y="0.00" fill="#111" font-size="10.40" stroke="#111" stroke-width="0.25">Qf= </tspan><tspan x="20.08" y="0.00" fill="#f21818" font-size="10.40" stroke="#f21818" stroke-width="0.25">5</tspan><tspan x="25.28" y="0.52" fill="#f21818" font-size="13.00" stroke="#f21818" stroke-width="0.25">×</tspan><tspan x="32.69" y="0.00" fill="#f21818" font-size="11.44" stroke="#f21818" stroke-width="0.25"> 10</tspan><tspan x="46.99" y="-4.16" fill="#f21818" font-size="8.84" stroke="#f21818" stroke-width="0.25">11</tspan><tspan x="55.34" y="0.00" fill="#111" font-size="10.40" stroke="#111" stroke-width="0.25"> cm</tspan><tspan x="71.22" y="-3.95" fill="#111" font-size="6.45" stroke="#111" stroke-width="0.25">-2</tspan></text></g><g transform="translate(287.00,90.71) scale(0.9717,1.0000)"><text font-family='"Liberation Serif", serif' font-weight="bold" xml:space="preserve"><tspan x="0.00" y="0.00" fill="#111" font-size="10.40" stroke="#111" stroke-width="0.25">I</tspan><tspan x="4.05" y="2.08" fill="#111" font-size="7.28" stroke="#111" stroke-width="0.25">DS max</tspan><tspan x="28.52" y="0.00" fill="#111" font-size="10.40" stroke="#111" stroke-width="0.25">= </tspan><tspan x="37.04" y="0.00" fill="#f21818" font-size="10.40" stroke="#f21818" stroke-width="0.25">-33.8</tspan><tspan x="58.71" y="0.00" fill="#111" font-size="10.40" stroke="#111" stroke-width="0.25"> mA/mm</tspan></text></g><g transform="translate(287.00,104.48) scale(0.9717,1.0000)"><text font-family='"Liberation Serif", serif' font-weight="bold" xml:space="preserve"><tspan x="0.00" y="0.00" fill="#111" font-size="10.40" stroke="#111" stroke-width="0.25">@V</tspan><tspan x="17.18" y="2.08" fill="#111" font-size="7.28" stroke="#111" stroke-width="0.25">DS</tspan><tspan x="26.49" y="0.00" fill="#111" font-size="10.40" stroke="#111" stroke-width="0.25"> -50 V, V</tspan><tspan x="64.06" y="2.08" fill="#111" font-size="7.28" stroke="#111" stroke-width="0.25">GS</tspan><tspan x="73.77" y="0.00" fill="#111" font-size="10.40" stroke="#111" stroke-width="0.25"> -42 V</tspan></text></g><g transform="translate(287.00,118.25) scale(0.9717,1.0000)"><text font-family='"Liberation Serif", serif' font-weight="bold" xml:space="preserve"><tspan x="0.00" y="0.00" fill="#111" font-size="10.40" stroke="#111" stroke-width="0.25">ΔV= 4 V</tspan></text></g><g transform="translate(287.00,132.02) scale(0.9717,1.0000)"><text font-family='"Liberation Serif", serif' font-weight="bold" xml:space="preserve"><tspan x="0.00" y="0.00" fill="#f21818" font-size="10.40" stroke="#f21818" stroke-width="0.25">Simulation</tspan></text></g><text x="241.3" y="16" font-family='"Liberation Serif", serif' font-weight="bold" font-size="23" fill="#000">b</text><g transform="translate(257.00,166.80) rotate(-90) scale(1.3405,1.0000)"><text font-family='"Liberation Sans", sans-serif' font-weight="normal" xml:space="preserve"><tspan x="0.00" y="0.00" fill="#111" font-size="9.00" stroke="#111" stroke-width="0.4">I</tspan><tspan x="2.50" y="2.52" fill="#111" font-size="7.65" stroke="#111" stroke-width="0.4">DS</tspan><tspan x="13.13" y="0.00" fill="#111" font-size="9.00" stroke="#111" stroke-width="0.4"> [mA/mm]</tspan></text></g><g transform="translate(348.50,225.70) scale(1.1482,1.0000)"><text font-family='"Liberation Sans", sans-serif' font-weight="normal" xml:space="preserve"><tspan x="0.00" y="0.00" fill="#111" font-size="9.00" stroke="#111" stroke-width="0.4">V</tspan><tspan x="6.00" y="2.52" fill="#111" font-size="7.65" stroke="#111" stroke-width="0.4">DS</tspan><tspan x="16.63" y="0.00" fill="#111" font-size="9.00" stroke="#111" stroke-width="0.4"> [V]</tspan></text></g><path d="M518.50,54.35V194.97H683.27" fill="none" stroke="#404040" stroke-width="1.1"/><path d="M515.30,54.35H518.50M515.30,73.10H518.50M515.30,91.85H518.50M515.30,110.60H518.50M515.30,129.35H518.50M515.30,148.10H518.50M515.30,166.85H518.50M515.30,185.60H518.50M516.70,63.72H518.50M516.70,82.47H518.50M516.70,101.22H518.50M516.70,119.97H518.50M516.70,138.72H518.50M516.70,157.47H518.50M516.70,176.22H518.50M516.70,194.97H518.50M532.30,194.97V198.17M559.75,194.97V198.17M587.20,194.97V198.17M614.65,194.97V198.17M642.10,194.97V198.17M669.55,194.97V198.17M518.57,194.97V196.78M546.02,194.97V196.78M573.47,194.97V196.78M600.92,194.97V196.78M628.38,194.97V196.78M655.82,194.97V196.78M683.27,194.97V196.78" fill="none" stroke="#404040" stroke-width="0.9"/><g font-family='"Liberation Sans", sans-serif' font-weight="bold" font-size="9.4" fill="#1c1c1c"><text transform="translate(514.00,57.45) scale(1.0,1)" text-anchor="end">-70</text><text transform="translate(514.00,76.20) scale(1.0,1)" text-anchor="end">-60</text><text transform="translate(514.00,94.95) scale(1.0,1)" text-anchor="end">-50</text><text transform="translate(514.00,113.70) scale(1.0,1)" text-anchor="end">-40</text><text transform="translate(514.00,132.45) scale(1.0,1)" text-anchor="end">-30</text><text transform="translate(514.00,151.20) scale(1.0,1)" text-anchor="end">-20</text><text transform="translate(514.00,169.95) scale(1.0,1)" text-anchor="end">-10</text><text transform="translate(514.00,188.70) scale(1.0,1)" text-anchor="end">0</text><text transform="translate(532.30,208.40) scale(1.0,1)" text-anchor="middle">0</text><text transform="translate(559.75,208.40) scale(1.0,1)" text-anchor="middle">-10</text><text transform="translate(587.20,208.40) scale(1.0,1)" text-anchor="middle">-20</text><text transform="translate(614.65,208.40) scale(1.0,1)" text-anchor="middle">-30</text><text transform="translate(642.10,208.40) scale(1.0,1)" text-anchor="middle">-40</text><text transform="translate(669.55,208.40) scale(1.0,1)" text-anchor="middle">-50</text></g><polyline points="532.30,185.60 535.04,180.98 537.79,178.73 540.53,177.48 543.28,176.23 546.02,172.10 548.77,169.10 551.51,167.23 554.26,166.64 557.00,166.05 559.75,165.47 562.50,164.51 565.24,163.47 567.98,162.42 570.73,161.37 573.47,160.40 576.22,159.51 578.96,158.62 581.71,157.73 584.45,156.98 587.20,156.55 589.94,156.12 592.69,155.70 595.43,155.27 598.18,154.89 600.92,154.52 603.67,154.15 606.41,153.79 609.16,153.45 611.90,153.11 614.65,152.80 617.39,152.51 620.14,152.31 622.88,152.20 625.63,152.09 628.38,151.99 631.12,151.92 633.87,151.91 636.61,151.91 639.36,151.91 642.10,151.90 644.84,151.90 647.59,151.89 650.33,151.89 653.08,151.89 655.82,151.88 658.57,151.88 661.31,151.87 664.06,151.87 666.80,151.87" fill="none" stroke="#000000" stroke-width="1.6" stroke-linejoin="round" marker-start="url(#m_sq_000000_100)" marker-mid="url(#m_sq_000000_100)" marker-end="url(#m_sq_000000_100)"/><polyline points="532.30,185.60 535.04,180.98 537.79,178.73 540.53,177.48 543.28,176.23 546.02,172.10 548.77,169.10 551.51,167.23 554.26,166.64 557.00,166.05 559.75,165.47 562.50,164.51 565.24,163.47 567.98,162.42 570.73,161.38 573.47,160.42 576.22,159.54 578.96,158.67 581.71,157.83 584.45,157.15 587.20,156.78 589.94,156.43 592.69,156.11 595.43,155.81 598.18,155.57 600.92,155.36 603.67,155.18 606.41,155.03 609.16,154.91 611.90,154.81 614.65,154.73 617.39,154.67 620.14,154.63 622.88,154.61 625.63,154.60 628.38,154.58 631.12,154.57 633.87,154.57 636.61,154.57 639.36,154.57 642.10,154.57 644.84,154.57 647.59,154.57 650.33,154.57 653.08,154.57 655.82,154.57 658.57,154.57 661.31,154.57 664.06,154.57 666.80,154.56" fill="none" stroke="#ff0000" stroke-width="1.6" stroke-linejoin="round" marker-start="url(#m_ci_ff0000_100)" marker-mid="url(#m_ci_ff0000_100)" marker-end="url(#m_ci_ff0000_100)"/><polyline points="532.30,185.60 535.04,180.98 537.79,178.73 540.53,177.48 543.28,176.23 546.02,172.10 548.77,169.10 551.51,167.23 554.26,166.64 557.00,166.06 559.75,165.47 562.50,164.52 565.24,163.48 567.98,162.45 570.73,161.45 573.47,160.56 576.22,159.80 578.96,159.14 581.71,158.60 584.45,158.27 587.20,158.13 589.94,158.01 592.69,157.92 595.43,157.85 598.18,157.81 600.92,157.77 603.67,157.74 606.41,157.72 609.16,157.71 611.90,157.70 614.65,157.69 617.39,157.68 620.14,157.68 622.88,157.68 625.63,157.67 628.38,157.67 631.12,157.67 633.87,157.67 636.61,157.67 639.36,157.67 642.10,157.67 644.84,157.67 647.59,157.67 650.33,157.67 653.08,157.67 655.82,157.67 658.57,157.67 661.31,157.67 664.06,157.67 666.80,157.67" fill="none" stroke="#0000ff" stroke-width="1.6" stroke-linejoin="round" marker-start="url(#m_tu_0000ff_100)" marker-mid="url(#m_tu_0000ff_100)" marker-end="url(#m_tu_0000ff_100)"/><polyline points="532.30,185.60 535.04,180.98 537.79,178.73 540.53,177.48 543.28,176.23 546.02,172.10 548.77,169.10 551.51,167.23 554.26,166.65 557.00,166.07 559.75,165.50 562.50,164.57 565.24,163.59 567.98,162.69 570.73,161.91 573.47,161.35 576.22,160.99 578.96,160.76 581.71,160.63 584.45,160.56 587.20,160.54 589.94,160.52 592.69,160.51 595.43,160.50 598.18,160.49 600.92,160.49 603.67,160.48 606.41,160.48 609.16,160.48 611.90,160.48 614.65,160.48 617.39,160.48 620.14,160.48 622.88,160.48 625.63,160.48 628.38,160.48 631.12,160.48 633.87,160.48 636.61,160.48 639.36,160.48 642.10,160.48 644.84,160.48 647.59,160.48 650.33,160.48 653.08,160.48 655.82,160.48 658.57,160.48 661.31,160.48 664.06,160.48 666.80,160.48" fill="none" stroke="#008080" stroke-width="1.6" stroke-linejoin="round" marker-start="url(#m_td_008080_100)" marker-mid="url(#m_td_008080_100)" marker-end="url(#m_td_008080_100)"/><polyline points="532.30,185.60 535.04,180.98 537.79,178.73 540.53,177.48 543.28,176.23 546.02,172.10 548.77,169.14 551.51,167.39 554.26,166.89 557.00,166.43 559.75,166.01 562.50,165.47 565.24,165.06 567.98,164.83 570.73,164.71 573.47,164.65 576.22,164.63 578.96,164.61 581.71,164.61 584.45,164.60 587.20,164.60 589.94,164.60 592.69,164.60 595.43,164.60 598.18,164.60 600.92,164.60 603.67,164.60 606.41,164.60 609.16,164.60 611.90,164.60 614.65,164.60 617.39,164.60 620.14,164.60 622.88,164.60 625.63,164.60 628.38,164.60 631.12,164.60 633.87,164.60 636.61,164.60 639.36,164.60 642.10,164.60 644.84,164.60 647.59,164.60 650.33,164.60 653.08,164.60 655.82,164.60 658.57,164.60 661.31,164.60 664.06,164.60 666.80,164.60" fill="none" stroke="#ff00ff" stroke-width="1.6" stroke-linejoin="round" marker-start="url(#m_di_ff00ff_100)" marker-mid="url(#m_di_ff00ff_100)" marker-end="url(#m_di_ff00ff_100)"/><polyline points="532.30,185.60 535.04,180.98 537.79,178.73 540.53,177.48 543.28,176.23 546.02,172.14 548.77,169.42 551.51,168.23 554.26,167.99 557.00,167.81 559.75,167.68 562.50,167.55 565.24,167.48 567.98,167.44 570.73,167.43 573.47,167.42 576.22,167.42 578.96,167.41 581.71,167.41 584.45,167.41 587.20,167.41 589.94,167.41 592.69,167.41 595.43,167.41 598.18,167.41 600.92,167.41 603.67,167.41 606.41,167.41 609.16,167.41 611.90,167.41 614.65,167.41 617.39,167.41 620.14,167.41 622.88,167.41 625.63,167.41 628.38,167.41 631.12,167.41 633.87,167.41 636.61,167.41 639.36,167.41 642.10,167.41 644.84,167.41 647.59,167.41 650.33,167.41 653.08,167.41 655.82,167.41 658.57,167.41 661.31,167.41 664.06,167.41 666.80,167.41" fill="none" stroke="#808000" stroke-width="1.6" stroke-linejoin="round" marker-start="url(#m_tl_808000_100)" marker-mid="url(#m_tl_808000_100)" marker-end="url(#m_tl_808000_100)"/><polyline points="532.30,185.60 535.04,180.99 537.79,178.73 540.53,177.48 543.28,176.25 546.02,172.56 548.77,171.26 551.51,171.05 554.26,171.02 557.00,171.01 559.75,170.99 562.50,170.98 565.24,170.98 567.98,170.98 570.73,170.98 573.47,170.98 576.22,170.98 578.96,170.98 581.71,170.98 584.45,170.98 587.20,170.98 589.94,170.98 592.69,170.98 595.43,170.98 598.18,170.98 600.92,170.98 603.67,170.98 606.41,170.98 609.16,170.98 611.90,170.98 614.65,170.98 617.39,170.98 620.14,170.98 622.88,170.98 625.63,170.98 628.38,170.98 631.12,170.98 633.87,170.98 636.61,170.98 639.36,170.98 642.10,170.98 644.84,170.98 647.59,170.98 650.33,170.98 653.08,170.98 655.82,170.98 658.57,170.98 661.31,170.98 664.06,170.98 666.80,170.98" fill="none" stroke="#000080" stroke-width="1.6" stroke-linejoin="round" marker-start="url(#m_tr_000080_100)" marker-mid="url(#m_tr_000080_100)" marker-end="url(#m_tr_000080_100)"/><polyline points="532.30,185.60 535.04,181.08 537.79,179.17 540.53,178.42 543.28,177.95 546.02,177.56 548.77,177.54 551.51,177.54 554.26,177.54 557.00,177.54 559.75,177.54 562.50,177.54 565.24,177.54 567.98,177.54 570.73,177.54 573.47,177.54 576.22,177.54 578.96,177.54 581.71,177.54 584.45,177.54 587.20,177.54 589.94,177.54 592.69,177.54 595.43,177.54 598.18,177.54 600.92,177.54 603.67,177.54 606.41,177.54 609.16,177.54 611.90,177.54 614.65,177.54 617.39,177.54 620.14,177.54 622.88,177.54 625.63,177.54 628.38,177.54 631.12,177.54 633.87,177.54 636.61,177.54 639.36,177.54 642.10,177.54 644.84,177.54 647.59,177.54 650.33,177.54 653.08,177.54 655.82,177.54 658.57,177.54 661.31,177.54 664.06,177.54 666.80,177.54" fill="none" stroke="#800000" stroke-width="1.6" stroke-linejoin="round" marker-start="url(#m_hx_800000_100)" marker-mid="url(#m_hx_800000_100)" marker-end="url(#m_hx_800000_100)"/><polyline points="532.30,185.60 535.04,181.55 537.79,180.54 540.53,180.32 543.28,180.23 546.02,180.17 548.77,180.16 551.51,180.16 554.26,180.16 557.00,180.16 559.75,180.16 562.50,180.16 565.24,180.16 567.98,180.16 570.73,180.16 573.47,180.16 576.22,180.16 578.96,180.16 581.71,180.16 584.45,180.16 587.20,180.16 589.94,180.16 592.69,180.16 595.43,180.16 598.18,180.16 600.92,180.16 603.67,180.16 606.41,180.16 609.16,180.16 611.90,180.16 614.65,180.16 617.39,180.16 620.14,180.16 622.88,180.16 625.63,180.16 628.38,180.16 631.12,180.16 633.87,180.16 636.61,180.16 639.36,180.16 642.10,180.16 644.84,180.16 647.59,180.16 650.33,180.16 653.08,180.16 655.82,180.16 658.57,180.16 661.31,180.16 664.06,180.16 666.80,180.16" fill="none" stroke="#ff0080" stroke-width="1.6" stroke-linejoin="round" marker-start="url(#m_ci_ff0080_100)" marker-mid="url(#m_ci_ff0080_100)" marker-end="url(#m_ci_ff0080_100)"/><polyline points="532.30,185.60 535.04,185.60 537.79,185.60 540.53,185.60 543.28,185.60 546.02,185.60 548.77,185.60 551.51,185.60 554.26,185.60 557.00,185.60 559.75,185.60 562.50,185.60 565.24,185.60 567.98,185.60 570.73,185.60 573.47,185.60 576.22,185.60 578.96,185.60 581.71,185.60 584.45,185.60 587.20,185.60 589.94,185.60 592.69,185.60 595.43,185.60 598.18,185.60 600.92,185.60 603.67,185.60 606.41,185.60 609.16,185.60 611.90,185.60 614.65,185.60 617.39,185.60 620.14,185.60 622.88,185.60 625.63,185.60 628.38,185.60 631.12,185.60 633.87,185.60 636.61,185.60 639.36,185.60 642.10,185.60 644.84,185.60 647.59,185.60 650.33,185.60 653.08,185.60 655.82,185.60 658.57,185.60 661.31,185.60 664.06,185.60 666.80,185.60" fill="none" stroke="#008000" stroke-width="1.6" stroke-linejoin="round" marker-start="url(#m_tu_008000_100)" marker-mid="url(#m_tu_008000_100)" marker-end="url(#m_tu_008000_100)"/><polyline points="532.30,185.60 535.04,185.60 537.79,185.60 540.53,185.60 543.28,185.60 546.02,185.60 548.77,185.60 551.51,185.60 554.26,185.60 557.00,185.60 559.75,185.60 562.50,185.60 565.24,185.60 567.98,185.60 570.73,185.60 573.47,185.60 576.22,185.60 578.96,185.60 581.71,185.60 584.45,185.60 587.20,185.60 589.94,185.60 592.69,185.60 595.43,185.60 598.18,185.60 600.92,185.60 603.67,185.60 606.41,185.60 609.16,185.60 611.90,185.60 614.65,185.60 617.39,185.60 620.14,185.60 622.88,185.60 625.63,185.60 628.38,185.60 631.12,185.60 633.87,185.60 636.61,185.60 639.36,185.60 642.10,185.60 644.84,185.60 647.59,185.60 650.33,185.60 653.08,185.60 655.82,185.60 658.57,185.60 661.31,185.60 664.06,185.60 666.80,185.60" fill="none" stroke="#7a3fd0" stroke-width="1.6" stroke-linejoin="round" marker-start="url(#m_di_7a3fd0_100)" marker-mid="url(#m_di_7a3fd0_100)" marker-end="url(#m_di_7a3fd0_100)"/><polyline points="532.30,185.60 535.04,185.60 537.79,185.60 540.53,185.60 543.28,185.60 546.02,185.60 548.77,185.60 551.51,185.60 554.26,185.60 557.00,185.60 559.75,185.60 562.50,185.60 565.24,185.60 567.98,185.60 570.73,185.60 573.47,185.60 576.22,185.60 578.96,185.60 581.71,185.60 584.45,185.60 587.20,185.60 589.94,185.60 592.69,185.60 595.43,185.60 598.18,185.60 600.92,185.60 603.67,185.60 606.41,185.60 609.16,185.60 611.90,185.60 614.65,185.60 617.39,185.60 620.14,185.60 622.88,185.60 625.63,185.60 628.38,185.60 631.12,185.60 633.87,185.60 636.61,185.60 639.36,185.60 642.10,185.60 644.84,185.60 647.59,185.60 650.33,185.60 653.08,185.60 655.82,185.60 658.57,185.60 661.31,185.60 664.06,185.60 666.80,185.60" fill="none" stroke="#008080" stroke-width="1.6" stroke-linejoin="round" marker-start="url(#m_hx_008080_100)" marker-mid="url(#m_hx_008080_100)" marker-end="url(#m_hx_008080_100)"/><g transform="translate(524.90,47.50) scale(0.8612,1.0000)"><text font-family='"Liberation Serif", serif' font-weight="bold" xml:space="preserve"><tspan x="0.00" y="0.00" fill="#f21818" font-size="11.10" stroke="#f21818" stroke-width="0.25">N conc. = 5</tspan><tspan x="52.57" y="0.56" fill="#f21818" font-size="13.88" stroke="#f21818" stroke-width="0.25">×</tspan><tspan x="60.47" y="0.00" fill="#f21818" font-size="12.21" stroke="#f21818" stroke-width="0.25"> 10</tspan><tspan x="75.74" y="-4.44" fill="#f21818" font-size="9.43" stroke="#f21818" stroke-width="0.25">16</tspan><tspan x="85.17" y="0.00" fill="#111" font-size="11.10" stroke="#111" stroke-width="0.25"> cm</tspan><tspan x="102.12" y="-4.22" fill="#111" font-size="6.88" stroke="#111" stroke-width="0.25">-3</tspan></text></g><g transform="translate(524.90,60.60) scale(0.8612,1.0000)"><text font-family='"Liberation Serif", serif' font-weight="bold" xml:space="preserve"><tspan x="0.00" y="0.00" fill="#f21818" font-size="11.10" stroke="#f21818" stroke-width="0.25">Positive charge model</tspan></text></g><g transform="translate(524.90,73.70) scale(0.8612,1.0000)"><text font-family='"Liberation Serif", serif' font-weight="bold" xml:space="preserve"><tspan x="0.00" y="0.00" fill="#111" font-size="11.10" stroke="#111" stroke-width="0.25">Qf= </tspan><tspan x="21.43" y="0.00" fill="#f21818" font-size="11.10" stroke="#f21818" stroke-width="0.25">5</tspan><tspan x="26.98" y="0.56" fill="#f21818" font-size="13.88" stroke="#f21818" stroke-width="0.25">×</tspan><tspan x="34.89" y="0.00" fill="#f21818" font-size="12.21" stroke="#f21818" stroke-width="0.25"> 10</tspan><tspan x="50.15" y="-4.44" fill="#f21818" font-size="9.43" stroke="#f21818" stroke-width="0.25">11</tspan><tspan x="59.06" y="0.00" fill="#111" font-size="11.10" stroke="#111" stroke-width="0.25"> cm</tspan><tspan x="76.01" y="-4.22" fill="#111" font-size="6.88" stroke="#111" stroke-width="0.25">-2</tspan></text></g><g transform="translate(524.90,86.80) scale(0.8612,1.0000)"><text font-family='"Liberation Serif", serif' font-weight="bold" xml:space="preserve"><tspan x="0.00" y="0.00" fill="#111" font-size="11.10" stroke="#111" stroke-width="0.25">I</tspan><tspan x="4.32" y="2.22" fill="#111" font-size="7.77" stroke="#111" stroke-width="0.25">DS max</tspan><tspan x="30.44" y="0.00" fill="#111" font-size="11.10" stroke="#111" stroke-width="0.25">= </tspan><tspan x="39.54" y="0.00" fill="#f21818" font-size="11.10" stroke="#f21818" stroke-width="0.25">-18.5</tspan><tspan x="62.66" y="0.00" fill="#111" font-size="11.10" stroke="#111" stroke-width="0.25"> mA/mm</tspan></text></g><g transform="translate(524.90,99.90) scale(0.8612,1.0000)"><text font-family='"Liberation Serif", serif' font-weight="bold" xml:space="preserve"><tspan x="0.00" y="0.00" fill="#111" font-size="11.10" stroke="#111" stroke-width="0.25">@V</tspan><tspan x="18.34" y="2.22" fill="#111" font-size="7.77" stroke="#111" stroke-width="0.25">DS</tspan><tspan x="28.27" y="0.00" fill="#111" font-size="11.10" stroke="#111" stroke-width="0.25"> -50 V, V</tspan><tspan x="68.37" y="2.22" fill="#111" font-size="7.77" stroke="#111" stroke-width="0.25">GS</tspan><tspan x="78.74" y="0.00" fill="#111" font-size="11.10" stroke="#111" stroke-width="0.25"> -42 V</tspan></text></g><g transform="translate(524.90,113.00) scale(0.8612,1.0000)"><text font-family='"Liberation Serif", serif' font-weight="bold" xml:space="preserve"><tspan x="0.00" y="0.00" fill="#111" font-size="11.10" stroke="#111" stroke-width="0.25">ΔV= 4 V</tspan></text></g><g transform="translate(524.90,126.10) scale(0.8612,1.0000)"><text font-family='"Liberation Serif", serif' font-weight="bold" xml:space="preserve"><tspan x="0.00" y="0.00" fill="#f21818" font-size="11.10" stroke="#f21818" stroke-width="0.25">Simulation</tspan></text></g><text x="479.8" y="16.2" font-family='"Liberation Serif", serif' font-weight="bold" font-size="23.5" fill="#000">c</text><g transform="translate(496.50,167.80) rotate(-90) scale(1.4431,1.0000)"><text font-family='"Liberation Sans", sans-serif' font-weight="normal" xml:space="preserve"><tspan x="0.00" y="0.00" fill="#111" font-size="9.00" stroke="#111" stroke-width="0.4">I</tspan><tspan x="2.50" y="2.52" fill="#111" font-size="7.65" stroke="#111" stroke-width="0.4">DS</tspan><tspan x="13.13" y="0.00" fill="#111" font-size="9.00" stroke="#111" stroke-width="0.4"> [mA/mm]</tspan></text></g><g transform="translate(584.20,227.40) scale(1.1183,1.0000)"><text font-family='"Liberation Sans", sans-serif' font-weight="normal" xml:space="preserve"><tspan x="0.00" y="0.00" fill="#111" font-size="9.00" stroke="#111" stroke-width="0.4">V</tspan><tspan x="6.00" y="2.52" fill="#111" font-size="7.65" stroke="#111" stroke-width="0.4">DS</tspan><tspan x="16.63" y="0.00" fill="#111" font-size="9.00" stroke="#111" stroke-width="0.4"> [V]</tspan></text></g><path d="M45.30,485.19V597.43H196.60" fill="none" stroke="#404040" stroke-width="1.1"/><path d="M42.10,485.19H45.30M42.10,499.22H45.30M42.10,513.25H45.30M42.10,527.28H45.30M42.10,541.31H45.30M42.10,555.34H45.30M42.10,569.37H45.30M42.10,583.40H45.30M42.10,597.43H45.30M43.50,492.20H45.30M43.50,506.23H45.30M43.50,520.26H45.30M43.50,534.29H45.30M43.50,548.32H45.30M43.50,562.36H45.30M43.50,576.38H45.30M43.50,590.41H45.30M58.00,597.43V600.63M83.20,597.43V600.63M108.40,597.43V600.63M133.60,597.43V600.63M158.80,597.43V600.63M184.00,597.43V600.63M45.40,597.43V599.23M70.60,597.43V599.23M95.80,597.43V599.23M121.00,597.43V599.23M146.20,597.43V599.23M171.40,597.43V599.23M196.60,597.43V599.23" fill="none" stroke="#404040" stroke-width="0.9"/><g font-family='"Liberation Sans", sans-serif' font-weight="bold" font-size="9.4" fill="#1c1c1c"><text transform="translate(41.40,488.29) scale(0.92,1)" text-anchor="end">-70</text><text transform="translate(41.40,502.32) scale(0.92,1)" text-anchor="end">-60</text><text transform="translate(41.40,516.35) scale(0.92,1)" text-anchor="end">-50</text><text transform="translate(41.40,530.38) scale(0.92,1)" text-anchor="end">-40</text><text transform="translate(41.40,544.41) scale(0.92,1)" text-anchor="end">-30</text><text transform="translate(41.40,558.44) scale(0.92,1)" text-anchor="end">-20</text><text transform="translate(41.40,572.47) scale(0.92,1)" text-anchor="end">-10</text><text transform="translate(41.40,586.50) scale(0.92,1)" text-anchor="end">0</text><text transform="translate(41.40,600.53) scale(0.92,1)" text-anchor="end">10</text><text transform="translate(58.00,608.10) scale(0.92,1)" text-anchor="middle">0</text><text transform="translate(83.20,608.10) scale(0.92,1)" text-anchor="middle">-10</text><text transform="translate(108.40,608.10) scale(0.92,1)" text-anchor="middle">-20</text><text transform="translate(133.60,608.10) scale(0.92,1)" text-anchor="middle">-30</text><text transform="translate(158.80,608.10) scale(0.92,1)" text-anchor="middle">-40</text><text transform="translate(184.00,608.10) scale(0.92,1)" text-anchor="middle">-50</text></g><polyline points="58.00,583.40 60.52,582.21 63.04,581.02 65.56,580.10 68.08,579.19 70.60,578.50 73.12,577.83 75.64,577.46 78.16,577.12 80.68,576.98 83.20,576.85 85.72,576.81 88.24,576.77 90.76,576.77 93.28,576.77 95.80,576.77 98.32,576.77 100.84,576.77 103.36,576.77 105.88,576.77 108.40,576.77 110.92,576.77 113.44,576.77 115.96,576.77 118.48,576.77 121.00,576.77 123.52,576.77 126.04,576.77 128.56,576.77 131.08,576.77 133.60,576.77 136.12,576.77 138.64,576.77 141.16,576.77 143.68,576.77 146.20,576.77 148.72,576.77 151.24,576.77 153.76,576.77 156.28,576.77 158.80,576.77 161.32,576.77 163.84,576.77 166.36,576.77 168.88,576.77 171.40,576.77 173.92,576.77 176.44,576.77 178.96,576.77 181.48,576.77" fill="none" stroke="#000080" stroke-width="1.3" stroke-linejoin="round" marker-start="url(#m_tr_000080_85)" marker-mid="url(#m_tr_000080_85)" marker-end="url(#m_tr_000080_85)"/><polyline points="58.00,583.40 60.52,582.21 63.04,581.02 65.56,580.10 68.08,579.20 70.60,578.52 73.12,577.88 75.64,577.54 78.16,577.27 80.68,577.16 83.20,577.07 85.72,577.05 88.24,577.02 90.76,577.02 93.28,577.02 95.80,577.02 98.32,577.02 100.84,577.02 103.36,577.02 105.88,577.02 108.40,577.02 110.92,577.02 113.44,577.02 115.96,577.02 118.48,577.02 121.00,577.02 123.52,577.02 126.04,577.02 128.56,577.02 131.08,577.02 133.60,577.02 136.12,577.02 138.64,577.02 141.16,577.02 143.68,577.02 146.20,577.02 148.72,577.02 151.24,577.02 153.76,577.02 156.28,577.02 158.80,577.02 161.32,577.02 163.84,577.02 166.36,577.02 168.88,577.02 171.40,577.02 173.92,577.02 176.44,577.02 178.96,577.02 181.48,577.02" fill="none" stroke="#7a3fd0" stroke-width="1.3" stroke-linejoin="round" marker-start="url(#m_di_7a3fd0_85)" marker-mid="url(#m_di_7a3fd0_85)" marker-end="url(#m_di_7a3fd0_85)"/><polyline points="58.00,583.40 60.52,582.21 63.04,581.02 65.56,580.11 68.08,579.24 70.60,578.63 73.12,578.18 75.64,578.01 78.16,577.90 80.68,577.87 83.20,577.84 85.72,577.84 88.24,577.83 90.76,577.83 93.28,577.83 95.80,577.83 98.32,577.83 100.84,577.83 103.36,577.83 105.88,577.83 108.40,577.83 110.92,577.83 113.44,577.83 115.96,577.83 118.48,577.83 121.00,577.83 123.52,577.83 126.04,577.83 128.56,577.83 131.08,577.83 133.60,577.83 136.12,577.83 138.64,577.83 141.16,577.83 143.68,577.83 146.20,577.83 148.72,577.83 151.24,577.83 153.76,577.83 156.28,577.83 158.80,577.83 161.32,577.83 163.84,577.83 166.36,577.83 168.88,577.83 171.40,577.83 173.92,577.83 176.44,577.83 178.96,577.83 181.48,577.83" fill="none" stroke="#ff00ff" stroke-width="1.3" stroke-linejoin="round" marker-start="url(#m_di_ff00ff_85)" marker-mid="url(#m_di_ff00ff_85)" marker-end="url(#m_di_ff00ff_85)"/><polyline points="58.00,583.40 60.52,582.21 63.04,581.02 65.56,580.14 68.08,579.37 70.60,578.95 73.12,578.74 75.64,578.69 78.16,578.66 80.68,578.65 83.20,578.64 85.72,578.64 88.24,578.64 90.76,578.64 93.28,578.64 95.80,578.64 98.32,578.64 100.84,578.64 103.36,578.64 105.88,578.64 108.40,578.64 110.92,578.64 113.44,578.64 115.96,578.64 118.48,578.64 121.00,578.64 123.52,578.64 126.04,578.64 128.56,578.64 131.08,578.64 133.60,578.64 136.12,578.64 138.64,578.64 141.16,578.64 143.68,578.64 146.20,578.64 148.72,578.64 151.24,578.64 153.76,578.64 156.28,578.64 158.80,578.64 161.32,578.64 163.84,578.64 166.36,578.64 168.88,578.64 171.40,578.64 173.92,578.64 176.44,578.64 178.96,578.64 181.48,578.64" fill="none" stroke="#ff0080" stroke-width="1.3" stroke-linejoin="round" marker-start="url(#m_ci_ff0080_85)" marker-mid="url(#m_ci_ff0080_85)" marker-end="url(#m_ci_ff0080_85)"/><polyline points="58.00,583.40 60.52,582.21 63.04,581.05 65.56,580.26 68.08,579.74 70.60,579.56 73.12,579.50 75.64,579.48 78.16,579.48 80.68,579.48 83.20,579.47 85.72,579.47 88.24,579.47 90.76,579.47 93.28,579.47 95.80,579.47 98.32,579.47 100.84,579.47 103.36,579.47 105.88,579.47 108.40,579.47 110.92,579.47 113.44,579.47 115.96,579.47 118.48,579.47 121.00,579.47 123.52,579.47 126.04,579.47 128.56,579.47 131.08,579.47 133.60,579.47 136.12,579.47 138.64,579.47 141.16,579.47 143.68,579.47 146.20,579.47 148.72,579.47 151.24,579.47 153.76,579.47 156.28,579.47 158.80,579.47 161.32,579.47 163.84,579.47 166.36,579.47 168.88,579.47 171.40,579.47 173.92,579.47 176.44,579.47 178.96,579.47 181.48,579.47" fill="none" stroke="#ff0080" stroke-width="1.3" stroke-linejoin="round" marker-start="url(#m_ci_ff0080_85)" marker-mid="url(#m_ci_ff0080_85)" marker-end="url(#m_ci_ff0080_85)"/><polyline points="58.00,583.40 60.52,583.40 63.04,583.40 65.56,583.40 68.08,583.40 70.60,583.40 73.12,583.40 75.64,583.40 78.16,583.40 80.68,583.40 83.20,583.40 85.72,583.40 88.24,583.40 90.76,583.40 93.28,583.40 95.80,583.40 98.32,583.40 100.84,583.40 103.36,583.40 105.88,583.40 108.40,583.40 110.92,583.40 113.44,583.40 115.96,583.40 118.48,583.40 121.00,583.40 123.52,583.40 126.04,583.40 128.56,583.40 131.08,583.40 133.60,583.40 136.12,583.40 138.64,583.40 141.16,583.40 143.68,583.40 146.20,583.40 148.72,583.40 151.24,583.40 153.76,583.40 156.28,583.40 158.80,583.40 161.32,583.40 163.84,583.40 166.36,583.40 168.88,583.40 171.40,583.40 173.92,583.40 176.44,583.40 178.96,583.40 181.48,583.40" fill="none" stroke="#000000" stroke-width="0.9" stroke-linejoin="round" marker-start="url(#m_sm_000000_85)" marker-mid="url(#m_sm_000000_85)" marker-end="url(#m_sm_000000_85)"/><g transform="translate(52.00,476.40) scale(1.0598,1.0000)"><text font-family='"Liberation Serif", serif' font-weight="bold" xml:space="preserve"><tspan x="0.00" y="0.00" fill="#f21818" font-size="9.00" stroke="#f21818" stroke-width="0.25">N conc. = 1</tspan><tspan x="42.62" y="0.45" fill="#f21818" font-size="11.25" stroke="#f21818" stroke-width="0.25">×</tspan><tspan x="49.03" y="0.00" fill="#f21818" font-size="9.90" stroke="#f21818" stroke-width="0.25"> 10</tspan><tspan x="61.41" y="-3.60" fill="#f21818" font-size="7.65" stroke="#f21818" stroke-width="0.25">17</tspan><tspan x="69.06" y="0.00" fill="#111" font-size="9.00" stroke="#111" stroke-width="0.25"> cm</tspan><tspan x="82.80" y="-3.42" fill="#111" font-size="5.58" stroke="#111" stroke-width="0.25">-3</tspan></text></g><g transform="translate(52.00,487.95) scale(1.0598,1.0000)"><text font-family='"Liberation Serif", serif' font-weight="bold" xml:space="preserve"><tspan x="0.00" y="0.00" fill="#f21818" font-size="9.00" stroke="#f21818" stroke-width="0.25">Positive charge model</tspan></text></g><g transform="translate(52.00,499.50) scale(1.0598,1.0000)"><text font-family='"Liberation Serif", serif' font-weight="bold" xml:space="preserve"><tspan x="0.00" y="0.00" fill="#111" font-size="9.00" stroke="#111" stroke-width="0.25">Qf= </tspan><tspan x="17.38" y="0.00" fill="#f21818" font-size="9.00" stroke="#f21818" stroke-width="0.25">5</tspan><tspan x="21.88" y="0.45" fill="#f21818" font-size="11.25" stroke="#f21818" stroke-width="0.25">×</tspan><tspan x="28.29" y="0.00" fill="#f21818" font-size="9.90" stroke="#f21818" stroke-width="0.25"> 10</tspan><tspan x="40.66" y="-3.60" fill="#f21818" font-size="7.65" stroke="#f21818" stroke-width="0.25">11</tspan><tspan x="47.89" y="0.00" fill="#111" font-size="9.00" stroke="#111" stroke-width="0.25"> cm</tspan><tspan x="61.63" y="-3.42" fill="#111" font-size="5.58" stroke="#111" stroke-width="0.25">-2</tspan></text></g><g transform="translate(52.00,511.05) scale(1.0598,1.0000)"><text font-family='"Liberation Serif", serif' font-weight="bold" xml:space="preserve"><tspan x="0.00" y="0.00" fill="#111" font-size="9.00" stroke="#111" stroke-width="0.25">I</tspan><tspan x="3.50" y="1.80" fill="#111" font-size="6.30" stroke="#111" stroke-width="0.25">DS max</tspan><tspan x="24.68" y="0.00" fill="#111" font-size="9.00" stroke="#111" stroke-width="0.25">= </tspan><tspan x="32.06" y="0.00" fill="#f21818" font-size="9.00" stroke="#f21818" stroke-width="0.25">-5</tspan><tspan x="39.55" y="0.00" fill="#111" font-size="9.00" stroke="#111" stroke-width="0.25"> mA/mm</tspan></text></g><g transform="translate(52.00,522.60) scale(1.0598,1.0000)"><text font-family='"Liberation Serif", serif' font-weight="bold" xml:space="preserve"><tspan x="0.00" y="0.00" fill="#111" font-size="9.00" stroke="#111" stroke-width="0.25">@V</tspan><tspan x="14.87" y="1.80" fill="#111" font-size="6.30" stroke="#111" stroke-width="0.25">DS</tspan><tspan x="22.92" y="0.00" fill="#111" font-size="9.00" stroke="#111" stroke-width="0.25"> -50 V, V</tspan><tspan x="55.44" y="1.80" fill="#111" font-size="6.30" stroke="#111" stroke-width="0.25">GS</tspan><tspan x="63.84" y="0.00" fill="#111" font-size="9.00" stroke="#111" stroke-width="0.25"> -42 V</tspan></text></g><g transform="translate(52.00,534.15) scale(1.0598,1.0000)"><text font-family='"Liberation Serif", serif' font-weight="bold" xml:space="preserve"><tspan x="0.00" y="0.00" fill="#111" font-size="9.00" stroke="#111" stroke-width="0.25">ΔV= 4 V</tspan></text></g><g transform="translate(52.00,545.70) scale(1.0598,1.0000)"><text font-family='"Liberation Serif", serif' font-weight="bold" xml:space="preserve"><tspan x="0.00" y="0.00" fill="#f21818" font-size="9.00" stroke="#f21818" stroke-width="0.25">Simulation</tspan></text></g><text x="6.6" y="448.5" font-family='"Liberation Serif", serif' font-weight="bold" font-size="21" fill="#000">d</text><g transform="translate(23.60,576.50) rotate(-90) scale(1.0945,1.0000)"><text font-family='"Liberation Sans", sans-serif' font-weight="normal" xml:space="preserve"><tspan x="0.00" y="0.00" fill="#111" font-size="9.00" stroke="#111" stroke-width="0.4">I</tspan><tspan x="2.50" y="2.52" fill="#111" font-size="7.65" stroke="#111" stroke-width="0.4">DS</tspan><tspan x="13.13" y="0.00" fill="#111" font-size="9.00" stroke="#111" stroke-width="0.4"> [mA/mm]</tspan></text></g><g transform="translate(105.00,620.10) scale(1.0320,1.0000)"><text font-family='"Liberation Sans", sans-serif' font-weight="normal" xml:space="preserve"><tspan x="0.00" y="0.00" fill="#111" font-size="9.00" stroke="#111" stroke-width="0.4">V</tspan><tspan x="6.00" y="2.52" fill="#111" font-size="7.65" stroke="#111" stroke-width="0.4">DS</tspan><tspan x="16.63" y="0.00" fill="#111" font-size="9.00" stroke="#111" stroke-width="0.4"> [V]</tspan></text></g><path d="M278.40,482.30V598.30H434.85" fill="none" stroke="#404040" stroke-width="1.1"/><path d="M275.20,482.30H278.40M275.20,496.80H278.40M275.20,511.30H278.40M275.20,525.80H278.40M275.20,540.30H278.40M275.20,554.80H278.40M275.20,569.30H278.40M275.20,583.80H278.40M275.20,598.30H278.40M276.60,489.55H278.40M276.60,504.05H278.40M276.60,518.55H278.40M276.60,533.05H278.40M276.60,547.55H278.40M276.60,562.05H278.40M276.60,576.55H278.40M276.60,591.05H278.40M291.30,598.30V601.50M317.40,598.30V601.50M343.50,598.30V601.50M369.60,598.30V601.50M395.70,598.30V601.50M421.80,598.30V601.50M278.25,598.30V600.10M304.35,598.30V600.10M330.45,598.30V600.10M356.55,598.30V600.10M382.65,598.30V600.10M408.75,598.30V600.10M434.85,598.30V600.10" fill="none" stroke="#404040" stroke-width="0.9"/><g font-family='"Liberation Sans", sans-serif' font-weight="bold" font-size="9.4" fill="#1c1c1c"><text transform="translate(274.30,485.40) scale(0.92,1)" text-anchor="end">-70</text><text transform="translate(274.30,499.90) scale(0.92,1)" text-anchor="end">-60</text><text transform="translate(274.30,514.40) scale(0.92,1)" text-anchor="end">-50</text><text transform="translate(274.30,528.90) scale(0.92,1)" text-anchor="end">-40</text><text transform="translate(274.30,543.40) scale(0.92,1)" text-anchor="end">-30</text><text transform="translate(274.30,557.90) scale(0.92,1)" text-anchor="end">-20</text><text transform="translate(274.30,572.40) scale(0.92,1)" text-anchor="end">-10</text><text transform="translate(274.30,586.90) scale(0.92,1)" text-anchor="end">0</text><text transform="translate(274.30,601.40) scale(0.92,1)" text-anchor="end">10</text><text transform="translate(291.30,609.20) scale(0.92,1)" text-anchor="middle">0</text><text transform="translate(317.40,609.20) scale(0.92,1)" text-anchor="middle">-10</text><text transform="translate(343.50,609.20) scale(0.92,1)" text-anchor="middle">-20</text><text transform="translate(369.60,609.20) scale(0.92,1)" text-anchor="middle">-30</text><text transform="translate(395.70,609.20) scale(0.92,1)" text-anchor="middle">-40</text><text transform="translate(421.80,609.20) scale(0.92,1)" text-anchor="middle">-50</text></g><polyline points="291.30,583.80 293.91,582.78 296.52,581.96 299.13,581.60 301.74,581.50 304.35,581.49 306.96,581.48 309.57,581.48 312.18,581.48 314.79,581.48 317.40,581.48 320.01,581.48 322.62,581.48 325.23,581.48 327.84,581.48 330.45,581.48 333.06,581.48 335.67,581.48 338.28,581.48 340.89,581.48 343.50,581.48 346.11,581.48 348.72,581.48 351.33,581.48 353.94,581.48 356.55,581.48 359.16,581.48 361.77,581.48 364.38,581.48 366.99,581.48 369.60,581.48 372.21,581.48 374.82,581.48 377.43,581.48 380.04,581.48 382.65,581.48 385.26,581.48 387.87,581.48 390.48,581.48 393.09,581.48 395.70,581.48 398.31,581.48 400.92,581.48 403.53,581.48 406.14,581.48 408.75,581.48 411.36,581.48 413.97,581.48 416.58,581.48 419.19,581.48 421.80,581.48" fill="none" stroke="#ff0080" stroke-width="1.3" stroke-linejoin="round" marker-start="url(#m_ci_ff0080_85)" marker-mid="url(#m_ci_ff0080_85)" marker-end="url(#m_ci_ff0080_85)"/><polyline points="291.30,583.80 293.91,582.72 296.52,581.66 299.13,580.79 301.74,580.25 304.35,580.10 306.96,580.05 309.57,580.04 312.18,580.03 314.79,580.03 317.40,580.03 320.01,580.03 322.62,580.03 325.23,580.03 327.84,580.03 330.45,580.03 333.06,580.03 335.67,580.03 338.28,580.03 340.89,580.03 343.50,580.03 346.11,580.03 348.72,580.03 351.33,580.03 353.94,580.03 356.55,580.03 359.16,580.03 361.77,580.03 364.38,580.03 366.99,580.03 369.60,580.03 372.21,580.03 374.82,580.03 377.43,580.03 380.04,580.03 382.65,580.03 385.26,580.03 387.87,580.03 390.48,580.03 393.09,580.03 395.70,580.03 398.31,580.03 400.92,580.03 403.53,580.03 406.14,580.03 408.75,580.03 411.36,580.03 413.97,580.03 416.58,580.03 419.19,580.03 421.80,580.03" fill="none" stroke="#800000" stroke-width="1.3" stroke-linejoin="round" marker-start="url(#m_hx_800000_85)" marker-mid="url(#m_hx_800000_85)" marker-end="url(#m_hx_800000_85)"/><polyline points="291.30,583.80 293.91,582.71 296.52,581.64 299.13,580.67 301.74,579.87 304.35,579.51 306.96,579.36 309.57,579.33 312.18,579.32 314.79,579.31 317.40,579.31 320.01,579.31 322.62,579.31 325.23,579.31 327.84,579.31 330.45,579.31 333.06,579.31 335.67,579.31 338.28,579.31 340.89,579.31 343.50,579.31 346.11,579.31 348.72,579.31 351.33,579.31 353.94,579.31 356.55,579.31 359.16,579.31 361.77,579.31 364.38,579.31 366.99,579.31 369.60,579.31 372.21,579.31 374.82,579.31 377.43,579.31 380.04,579.31 382.65,579.31 385.26,579.31 387.87,579.31 390.48,579.31 393.09,579.31 395.70,579.31 398.31,579.31 400.92,579.31 403.53,579.31 406.14,579.31 408.75,579.31 411.36,579.31 413.97,579.31 416.58,579.31 419.19,579.31 421.80,579.31" fill="none" stroke="#ff0000" stroke-width="1.3" stroke-linejoin="round" marker-start="url(#m_ci_ff0000_85)" marker-mid="url(#m_ci_ff0000_85)" marker-end="url(#m_ci_ff0000_85)"/><polyline points="291.30,583.80 293.91,582.71 296.52,581.63 299.13,580.62 301.74,579.63 304.35,578.93 306.96,578.40 309.57,578.20 312.18,578.09 314.79,578.06 317.40,578.04 320.01,578.03 322.62,578.03 325.23,578.03 327.84,578.03 330.45,578.03 333.06,578.03 335.67,578.03 338.28,578.03 340.89,578.03 343.50,578.03 346.11,578.03 348.72,578.03 351.33,578.03 353.94,578.03 356.55,578.03 359.16,578.03 361.77,578.03 364.38,578.03 366.99,578.03 369.60,578.03 372.21,578.03 374.82,578.03 377.43,578.03 380.04,578.03 382.65,578.03 385.26,578.03 387.87,578.03 390.48,578.03 393.09,578.03 395.70,578.03 398.31,578.03 400.92,578.03 403.53,578.03 406.14,578.03 408.75,578.03 411.36,578.03 413.97,578.03 416.58,578.03 419.19,578.03 421.80,578.03" fill="none" stroke="#000080" stroke-width="1.3" stroke-linejoin="round" marker-start="url(#m_tr_000080_85)" marker-mid="url(#m_tr_000080_85)" marker-end="url(#m_tr_000080_85)"/><polyline points="291.30,583.80 293.91,582.71 296.52,581.63 299.13,580.61 301.74,579.61 304.35,578.84 306.96,578.15 309.57,577.80 312.18,577.55 314.79,577.46 317.40,577.39 320.01,577.38 322.62,577.37 325.23,577.37 327.84,577.37 330.45,577.37 333.06,577.37 335.67,577.37 338.28,577.37 340.89,577.37 343.50,577.37 346.11,577.37 348.72,577.37 351.33,577.37 353.94,577.37 356.55,577.37 359.16,577.37 361.77,577.37 364.38,577.37 366.99,577.37 369.60,577.37 372.21,577.37 374.82,577.37 377.43,577.37 380.04,577.37 382.65,577.37 385.26,577.37 387.87,577.37 390.48,577.37 393.09,577.37 395.70,577.37 398.31,577.37 400.92,577.37 403.53,577.37 406.14,577.37 408.75,577.37 411.36,577.37 413.97,577.37 416.58,577.37 419.19,577.37 421.80,577.37" fill="none" stroke="#0000ff" stroke-width="1.3" stroke-linejoin="round" marker-start="url(#m_tu_0000ff_85)" marker-mid="url(#m_tu_0000ff_85)" marker-end="url(#m_tu_0000ff_85)"/><polyline points="291.30,583.80 293.91,582.71 296.52,581.63 299.13,580.61 301.74,579.60 304.35,578.80 306.96,578.03 309.57,577.56 312.18,577.13 314.79,576.92 317.40,576.74 320.01,576.70 322.62,576.66 325.23,576.66 327.84,576.66 330.45,576.66 333.06,576.66 335.67,576.66 338.28,576.66 340.89,576.66 343.50,576.66 346.11,576.66 348.72,576.66 351.33,576.66 353.94,576.66 356.55,576.66 359.16,576.66 361.77,576.66 364.38,576.66 366.99,576.66 369.60,576.66 372.21,576.66 374.82,576.66 377.43,576.66 380.04,576.66 382.65,576.66 385.26,576.66 387.87,576.66 390.48,576.66 393.09,576.66 395.70,576.66 398.31,576.66 400.92,576.66 403.53,576.66 406.14,576.66 408.75,576.66 411.36,576.66 413.97,576.66 416.58,576.66 419.19,576.66 421.80,576.66" fill="none" stroke="#5a10b0" stroke-width="1.3" stroke-linejoin="round" marker-start="url(#m_di_5a10b0_85)" marker-mid="url(#m_di_5a10b0_85)" marker-end="url(#m_di_5a10b0_85)"/><polyline points="291.30,583.80 293.91,583.80 296.52,583.80 299.13,583.80 301.74,583.80 304.35,583.80 306.96,583.80 309.57,583.80 312.18,583.80 314.79,583.80 317.40,583.80 320.01,583.80 322.62,583.80 325.23,583.80 327.84,583.80 330.45,583.80 333.06,583.80 335.67,583.80 338.28,583.80 340.89,583.80 343.50,583.80 346.11,583.80 348.72,583.80 351.33,583.80 353.94,583.80 356.55,583.80 359.16,583.80 361.77,583.80 364.38,583.80 366.99,583.80 369.60,583.80 372.21,583.80 374.82,583.80 377.43,583.80 380.04,583.80 382.65,583.80 385.26,583.80 387.87,583.80 390.48,583.80 393.09,583.80 395.70,583.80 398.31,583.80 400.92,583.80 403.53,583.80 406.14,583.80 408.75,583.80 411.36,583.80 413.97,583.80 416.58,583.80 419.19,583.80 421.80,583.80" fill="none" stroke="#000000" stroke-width="0.9" stroke-linejoin="round" marker-start="url(#m_sm_000000_85)" marker-mid="url(#m_sm_000000_85)" marker-end="url(#m_sm_000000_85)"/><g transform="translate(285.30,479.00) scale(1.0204,1.0000)"><text font-family='"Liberation Serif", serif' font-weight="bold" xml:space="preserve"><tspan x="0.00" y="0.00" fill="#f21818" font-size="9.20" stroke="#f21818" stroke-width="0.25">N conc. = 2</tspan><tspan x="43.57" y="0.46" fill="#f21818" font-size="11.50" stroke="#f21818" stroke-width="0.25">×</tspan><tspan x="50.12" y="0.00" fill="#f21818" font-size="10.12" stroke="#f21818" stroke-width="0.25"> 10</tspan><tspan x="62.77" y="-3.68" fill="#f21818" font-size="7.82" stroke="#f21818" stroke-width="0.25">17</tspan><tspan x="70.59" y="0.00" fill="#111" font-size="9.20" stroke="#111" stroke-width="0.25"> cm</tspan><tspan x="84.64" y="-3.50" fill="#111" font-size="5.70" stroke="#111" stroke-width="0.25">-3</tspan></text></g><g transform="translate(285.30,490.40) scale(1.0204,1.0000)"><text font-family='"Liberation Serif", serif' font-weight="bold" xml:space="preserve"><tspan x="0.00" y="0.00" fill="#f21818" font-size="9.20" stroke="#f21818" stroke-width="0.25">Positive charge model</tspan></text></g><g transform="translate(285.30,501.80) scale(1.0204,1.0000)"><text font-family='"Liberation Serif", serif' font-weight="bold" xml:space="preserve"><tspan x="0.00" y="0.00" fill="#111" font-size="9.20" stroke="#111" stroke-width="0.25">Qf= </tspan><tspan x="17.76" y="0.00" fill="#f21818" font-size="9.20" stroke="#f21818" stroke-width="0.25">5</tspan><tspan x="22.36" y="0.46" fill="#f21818" font-size="11.50" stroke="#f21818" stroke-width="0.25">×</tspan><tspan x="28.92" y="0.00" fill="#f21818" font-size="10.12" stroke="#f21818" stroke-width="0.25"> 10</tspan><tspan x="41.57" y="-3.68" fill="#f21818" font-size="7.82" stroke="#f21818" stroke-width="0.25">11</tspan><tspan x="48.95" y="0.00" fill="#111" font-size="9.20" stroke="#111" stroke-width="0.25"> cm</tspan><tspan x="63.00" y="-3.50" fill="#111" font-size="5.70" stroke="#111" stroke-width="0.25">-2</tspan></text></g><g transform="translate(285.30,513.20) scale(1.0204,1.0000)"><text font-family='"Liberation Serif", serif' font-weight="bold" xml:space="preserve"><tspan x="0.00" y="0.00" fill="#111" font-size="9.20" stroke="#111" stroke-width="0.25">I</tspan><tspan x="3.58" y="1.84" fill="#111" font-size="6.44" stroke="#111" stroke-width="0.25">DS max</tspan><tspan x="25.23" y="0.00" fill="#111" font-size="9.20" stroke="#111" stroke-width="0.25">= </tspan><tspan x="32.77" y="0.00" fill="#f21818" font-size="9.20" stroke="#f21818" stroke-width="0.25">-4.9</tspan><tspan x="47.33" y="0.00" fill="#111" font-size="9.20" stroke="#111" stroke-width="0.25"> mA/mm</tspan></text></g><g transform="translate(285.30,524.60) scale(1.0204,1.0000)"><text font-family='"Liberation Serif", serif' font-weight="bold" xml:space="preserve"><tspan x="0.00" y="0.00" fill="#111" font-size="9.20" stroke="#111" stroke-width="0.25">@V</tspan><tspan x="15.20" y="1.84" fill="#111" font-size="6.44" stroke="#111" stroke-width="0.25">DS</tspan><tspan x="23.43" y="0.00" fill="#111" font-size="9.20" stroke="#111" stroke-width="0.25"> -50 V, V</tspan><tspan x="56.67" y="1.84" fill="#111" font-size="6.44" stroke="#111" stroke-width="0.25">GS</tspan><tspan x="65.26" y="0.00" fill="#111" font-size="9.20" stroke="#111" stroke-width="0.25"> -42 V</tspan></text></g><g transform="translate(285.30,536.00) scale(1.0204,1.0000)"><text font-family='"Liberation Serif", serif' font-weight="bold" xml:space="preserve"><tspan x="0.00" y="0.00" fill="#111" font-size="9.20" stroke="#111" stroke-width="0.25">ΔV= 4 V</tspan></text></g><g transform="translate(285.30,547.40) scale(1.0204,1.0000)"><text font-family='"Liberation Serif", serif' font-weight="bold" xml:space="preserve"><tspan x="0.00" y="0.00" fill="#f21818" font-size="9.20" stroke="#f21818" stroke-width="0.25">Simulation</tspan></text></g><text x="239.9" y="448.2" font-family='"Liberation Serif", serif' font-weight="bold" font-size="21" fill="#000">e</text><g transform="translate(257.00,576.70) rotate(-90) scale(1.1390,1.0000)"><text font-family='"Liberation Sans", sans-serif' font-weight="normal" xml:space="preserve"><tspan x="0.00" y="0.00" fill="#111" font-size="9.00" stroke="#111" stroke-width="0.4">I</tspan><tspan x="2.50" y="2.52" fill="#111" font-size="7.65" stroke="#111" stroke-width="0.4">DS</tspan><tspan x="13.13" y="0.00" fill="#111" font-size="9.00" stroke="#111" stroke-width="0.4"> [mA/mm]</tspan></text></g><g transform="translate(338.10,619.80) scale(1.0586,1.0000)"><text font-family='"Liberation Sans", sans-serif' font-weight="normal" xml:space="preserve"><tspan x="0.00" y="0.00" fill="#111" font-size="9.00" stroke="#111" stroke-width="0.4">V</tspan><tspan x="6.00" y="2.52" fill="#111" font-size="7.65" stroke="#111" stroke-width="0.4">DS</tspan><tspan x="16.63" y="0.00" fill="#111" font-size="9.00" stroke="#111" stroke-width="0.4"> [V]</tspan></text></g><path d="M518.20,484.71V602.07H677.76" fill="none" stroke="#404040" stroke-width="1.1"/><path d="M515.00,484.71H518.20M515.00,499.38H518.20M515.00,514.05H518.20M515.00,528.72H518.20M515.00,543.39H518.20M515.00,558.06H518.20M515.00,572.73H518.20M515.00,587.40H518.20M515.00,602.07H518.20M516.40,492.04H518.20M516.40,506.71H518.20M516.40,521.38H518.20M516.40,536.05H518.20M516.40,550.73H518.20M516.40,565.39H518.20M516.40,580.06H518.20M516.40,594.74H518.20M531.30,602.07V605.27M557.93,602.07V605.27M584.56,602.07V605.27M611.19,602.07V605.27M637.82,602.07V605.27M664.45,602.07V605.27M517.98,602.07V603.87M544.62,602.07V603.87M571.25,602.07V603.87M597.88,602.07V603.87M624.50,602.07V603.87M651.13,602.07V603.87M677.76,602.07V603.87" fill="none" stroke="#404040" stroke-width="0.9"/><g font-family='"Liberation Sans", sans-serif' font-weight="bold" font-size="9.4" fill="#1c1c1c"><text transform="translate(514.10,487.81) scale(0.92,1)" text-anchor="end">-70</text><text transform="translate(514.10,502.48) scale(0.92,1)" text-anchor="end">-60</text><text transform="translate(514.10,517.15) scale(0.92,1)" text-anchor="end">-50</text><text transform="translate(514.10,531.82) scale(0.92,1)" text-anchor="end">-40</text><text transform="translate(514.10,546.49) scale(0.92,1)" text-anchor="end">-30</text><text transform="translate(514.10,561.16) scale(0.92,1)" text-anchor="end">-20</text><text transform="translate(514.10,575.83) scale(0.92,1)" text-anchor="end">-10</text><text transform="translate(514.10,590.50) scale(0.92,1)" text-anchor="end">0</text><text transform="translate(514.10,605.17) scale(0.92,1)" text-anchor="end">10</text><text transform="translate(531.30,612.80) scale(0.92,1)" text-anchor="middle">0</text><text transform="translate(557.93,612.80) scale(0.92,1)" text-anchor="middle">-10</text><text transform="translate(584.56,612.80) scale(0.92,1)" text-anchor="middle">-20</text><text transform="translate(611.19,612.80) scale(0.92,1)" text-anchor="middle">-30</text><text transform="translate(637.82,612.80) scale(0.92,1)" text-anchor="middle">-40</text><text transform="translate(664.45,612.80) scale(0.92,1)" text-anchor="middle">-50</text></g><polyline points="531.30,587.40 533.96,586.64 536.63,586.05 539.29,585.77 541.95,585.68 544.62,585.65 547.28,585.64 549.94,585.64 552.60,585.64 555.27,585.64 557.93,585.64 560.59,585.64 563.26,585.64 565.92,585.64 568.58,585.64 571.25,585.64 573.91,585.64 576.57,585.64 579.23,585.64 581.90,585.64 584.56,585.64 587.22,585.64 589.89,585.64 592.55,585.64 595.21,585.64 597.88,585.64 600.54,585.64 603.20,585.64 605.86,585.64 608.53,585.64 611.19,585.64 613.85,585.64 616.52,585.64 619.18,585.64 621.84,585.64 624.50,585.64 627.17,585.64 629.83,585.64 632.49,585.64 635.16,585.64 637.82,585.64 640.48,585.64 643.15,585.64 645.81,585.64 648.47,585.64 651.13,585.64 653.80,585.64 656.46,585.64 659.12,585.64 661.79,585.64 664.45,585.64" fill="none" stroke="#800000" stroke-width="1.3" stroke-linejoin="round" marker-start="url(#m_hx_800000_85)" marker-mid="url(#m_hx_800000_85)" marker-end="url(#m_hx_800000_85)"/><polyline points="531.30,587.40 533.96,586.53 536.63,585.68 539.29,584.97 541.95,584.43 544.62,584.19 547.28,584.08 549.94,584.05 552.60,584.04 555.27,584.03 557.93,584.03 560.59,584.03 563.26,584.03 565.92,584.03 568.58,584.03 571.25,584.03 573.91,584.03 576.57,584.03 579.23,584.03 581.90,584.03 584.56,584.03 587.22,584.03 589.89,584.03 592.55,584.03 595.21,584.03 597.88,584.03 600.54,584.03 603.20,584.03 605.86,584.03 608.53,584.03 611.19,584.03 613.85,584.03 616.52,584.03 619.18,584.03 621.84,584.03 624.50,584.03 627.17,584.03 629.83,584.03 632.49,584.03 635.16,584.03 637.82,584.03 640.48,584.03 643.15,584.03 645.81,584.03 648.47,584.03 651.13,584.03 653.80,584.03 656.46,584.03 659.12,584.03 661.79,584.03 664.45,584.03" fill="none" stroke="#000080" stroke-width="1.3" stroke-linejoin="round" marker-start="url(#m_tr_000080_85)" marker-mid="url(#m_tr_000080_85)" marker-end="url(#m_tr_000080_85)"/><polyline points="531.30,587.40 533.96,586.52 536.63,585.65 539.29,584.86 541.95,584.12 544.62,583.62 547.28,583.28 549.94,583.13 552.60,583.06 555.27,583.04 557.93,583.02 560.59,583.01 563.26,583.01 565.92,583.01 568.58,583.01 571.25,583.01 573.91,583.01 576.57,583.01 579.23,583.01 581.90,583.01 584.56,583.01 587.22,583.01 589.89,583.01 592.55,583.01 595.21,583.01 597.88,583.01 600.54,583.01 603.20,583.01 605.86,583.01 608.53,583.01 611.19,583.01 613.85,583.01 616.52,583.01 619.18,583.01 621.84,583.01 624.50,583.01 627.17,583.01 629.83,583.01 632.49,583.01 635.16,583.01 637.82,583.01 640.48,583.01 643.15,583.01 645.81,583.01 648.47,583.01 651.13,583.01 653.80,583.01 656.46,583.01 659.12,583.01 661.79,583.01 664.45,583.01" fill="none" stroke="#808000" stroke-width="1.3" stroke-linejoin="round" marker-start="url(#m_tl_808000_85)" marker-mid="url(#m_tl_808000_85)" marker-end="url(#m_tl_808000_85)"/><polyline points="531.30,587.40 533.96,586.52 536.63,585.64 539.29,584.84 541.95,584.04 544.62,583.42 547.28,582.85 549.94,582.50 552.60,582.25 555.27,582.16 557.93,582.09 560.59,582.06 563.26,582.03 565.92,582.02 568.58,582.02 571.25,582.02 573.91,582.02 576.57,582.02 579.23,582.02 581.90,582.02 584.56,582.02 587.22,582.02 589.89,582.02 592.55,582.02 595.21,582.02 597.88,582.02 600.54,582.02 603.20,582.02 605.86,582.02 608.53,582.02 611.19,582.02 613.85,582.02 616.52,582.02 619.18,582.02 621.84,582.02 624.50,582.02 627.17,582.02 629.83,582.02 632.49,582.02 635.16,582.02 637.82,582.02 640.48,582.02 643.15,582.02 645.81,582.02 648.47,582.02 651.13,582.02 653.80,582.02 656.46,582.02 659.12,582.02 661.79,582.02 664.45,582.02" fill="none" stroke="#0000ff" stroke-width="1.3" stroke-linejoin="round" marker-start="url(#m_tu_0000ff_85)" marker-mid="url(#m_tu_0000ff_85)" marker-end="url(#m_tu_0000ff_85)"/><polyline points="531.30,587.40 533.96,586.52 536.63,585.64 539.29,584.83 541.95,584.03 544.62,583.38 547.28,582.75 549.94,582.30 552.60,581.91 555.27,581.72 557.93,581.58 560.59,581.49 563.26,581.42 565.92,581.40 568.58,581.39 571.25,581.39 573.91,581.39 576.57,581.39 579.23,581.39 581.90,581.39 584.56,581.39 587.22,581.39 589.89,581.39 592.55,581.39 595.21,581.39 597.88,581.39 600.54,581.39 603.20,581.39 605.86,581.39 608.53,581.39 611.19,581.39 613.85,581.39 616.52,581.39 619.18,581.39 621.84,581.39 624.50,581.39 627.17,581.39 629.83,581.39 632.49,581.39 635.16,581.39 637.82,581.39 640.48,581.39 643.15,581.39 645.81,581.39 648.47,581.39 651.13,581.39 653.80,581.39 656.46,581.39 659.12,581.39 661.79,581.39 664.45,581.39" fill="none" stroke="#ff00ff" stroke-width="1.3" stroke-linejoin="round" marker-start="url(#m_di_ff00ff_85)" marker-mid="url(#m_di_ff00ff_85)" marker-end="url(#m_di_ff00ff_85)"/><polyline points="531.30,587.40 533.96,586.52 536.63,585.64 539.29,584.83 541.95,584.03 544.62,583.37 547.28,582.72 549.94,582.22 552.60,581.75 555.27,581.50 557.93,581.28 560.59,581.12 563.26,580.99 565.92,580.95 568.58,580.91 571.25,580.91 573.91,580.91 576.57,580.91 579.23,580.91 581.90,580.91 584.56,580.91 587.22,580.91 589.89,580.91 592.55,580.91 595.21,580.91 597.88,580.91 600.54,580.91 603.20,580.91 605.86,580.91 608.53,580.91 611.19,580.91 613.85,580.91 616.52,580.91 619.18,580.91 621.84,580.91 624.50,580.91 627.17,580.91 629.83,580.91 632.49,580.91 635.16,580.91 637.82,580.91 640.48,580.91 643.15,580.91 645.81,580.91 648.47,580.91 651.13,580.91 653.80,580.91 656.46,580.91 659.12,580.91 661.79,580.91 664.45,580.91" fill="none" stroke="#5a10b0" stroke-width="1.3" stroke-linejoin="round" marker-start="url(#m_di_5a10b0_85)" marker-mid="url(#m_di_5a10b0_85)" marker-end="url(#m_di_5a10b0_85)"/><polyline points="531.30,587.40 533.96,587.40 536.63,587.40 539.29,587.40 541.95,587.40 544.62,587.40 547.28,587.40 549.94,587.40 552.60,587.40 555.27,587.40 557.93,587.40 560.59,587.40 563.26,587.40 565.92,587.40 568.58,587.40 571.25,587.40 573.91,587.40 576.57,587.40 579.23,587.40 581.90,587.40 584.56,587.40 587.22,587.40 589.89,587.40 592.55,587.40 595.21,587.40 597.88,587.40 600.54,587.40 603.20,587.40 605.86,587.40 608.53,587.40 611.19,587.40 613.85,587.40 616.52,587.40 619.18,587.40 621.84,587.40 624.50,587.40 627.17,587.40 629.83,587.40 632.49,587.40 635.16,587.40 637.82,587.40 640.48,587.40 643.15,587.40 645.81,587.40 648.47,587.40 651.13,587.40 653.80,587.40 656.46,587.40 659.12,587.40 661.79,587.40 664.45,587.40" fill="none" stroke="#000000" stroke-width="0.9" stroke-linejoin="round" marker-start="url(#m_sm_000000_85)" marker-mid="url(#m_sm_000000_85)" marker-end="url(#m_sm_000000_85)"/><g transform="translate(527.40,477.80) scale(1.0253,1.0000)"><text font-family='"Liberation Serif", serif' font-weight="bold" xml:space="preserve"><tspan x="0.00" y="0.00" fill="#f21818" font-size="10.40" stroke="#f21818" stroke-width="0.25">N conc. = 5</tspan><tspan x="49.25" y="0.52" fill="#f21818" font-size="13.00" stroke="#f21818" stroke-width="0.25">×</tspan><tspan x="56.66" y="0.00" fill="#f21818" font-size="11.44" stroke="#f21818" stroke-width="0.25"> 10</tspan><tspan x="70.96" y="-4.16" fill="#f21818" font-size="8.84" stroke="#f21818" stroke-width="0.25">17</tspan><tspan x="79.80" y="0.00" fill="#111" font-size="10.40" stroke="#111" stroke-width="0.25"> cm</tspan><tspan x="95.68" y="-3.95" fill="#111" font-size="6.45" stroke="#111" stroke-width="0.25">-3</tspan></text></g><g transform="translate(527.40,490.80) scale(1.0253,1.0000)"><text font-family='"Liberation Serif", serif' font-weight="bold" xml:space="preserve"><tspan x="0.00" y="0.00" fill="#f21818" font-size="10.40" stroke="#f21818" stroke-width="0.25">Positive charge model</tspan></text></g><g transform="translate(527.40,503.80) scale(1.0253,1.0000)"><text font-family='"Liberation Serif", serif' font-weight="bold" xml:space="preserve"><tspan x="0.00" y="0.00" fill="#111" font-size="10.40" stroke="#111" stroke-width="0.25">Qf= </tspan><tspan x="20.08" y="0.00" fill="#f21818" font-size="10.40" stroke="#f21818" stroke-width="0.25">5</tspan><tspan x="25.28" y="0.52" fill="#f21818" font-size="13.00" stroke="#f21818" stroke-width="0.25">×</tspan><tspan x="32.69" y="0.00" fill="#f21818" font-size="11.44" stroke="#f21818" stroke-width="0.25"> 10</tspan><tspan x="46.99" y="-4.16" fill="#f21818" font-size="8.84" stroke="#f21818" stroke-width="0.25">11</tspan><tspan x="55.34" y="0.00" fill="#111" font-size="10.40" stroke="#111" stroke-width="0.25"> cm</tspan><tspan x="71.22" y="-3.95" fill="#111" font-size="6.45" stroke="#111" stroke-width="0.25">-2</tspan></text></g><g transform="translate(527.40,516.80) scale(1.0253,1.0000)"><text font-family='"Liberation Serif", serif' font-weight="bold" xml:space="preserve"><tspan x="0.00" y="0.00" fill="#111" font-size="10.40" stroke="#111" stroke-width="0.25">I</tspan><tspan x="4.05" y="2.08" fill="#111" font-size="7.28" stroke="#111" stroke-width="0.25">DS max</tspan><tspan x="28.52" y="0.00" fill="#111" font-size="10.40" stroke="#111" stroke-width="0.25">= </tspan><tspan x="37.04" y="0.00" fill="#f21818" font-size="10.40" stroke="#f21818" stroke-width="0.25">-4.7</tspan><tspan x="53.51" y="0.00" fill="#111" font-size="10.40" stroke="#111" stroke-width="0.25"> mA/mm</tspan></text></g><g transform="translate(527.40,529.80) scale(1.0253,1.0000)"><text font-family='"Liberation Serif", serif' font-weight="bold" xml:space="preserve"><tspan x="0.00" y="0.00" fill="#111" font-size="10.40" stroke="#111" stroke-width="0.25">@V</tspan><tspan x="17.18" y="2.08" fill="#111" font-size="7.28" stroke="#111" stroke-width="0.25">DS</tspan><tspan x="26.49" y="0.00" fill="#111" font-size="10.40" stroke="#111" stroke-width="0.25"> -50 V, V</tspan><tspan x="64.06" y="2.08" fill="#111" font-size="7.28" stroke="#111" stroke-width="0.25">GS</tspan><tspan x="73.77" y="0.00" fill="#111" font-size="10.40" stroke="#111" stroke-width="0.25"> -42 V</tspan></text></g><g transform="translate(527.40,542.80) scale(1.0253,1.0000)"><text font-family='"Liberation Serif", serif' font-weight="bold" xml:space="preserve"><tspan x="0.00" y="0.00" fill="#111" font-size="10.40" stroke="#111" stroke-width="0.25">ΔV= 4 V</tspan></text></g><g transform="translate(527.40,555.80) scale(1.0253,1.0000)"><text font-family='"Liberation Serif", serif' font-weight="bold" xml:space="preserve"><tspan x="0.00" y="0.00" fill="#f21818" font-size="10.40" stroke="#f21818" stroke-width="0.25">Simulation</tspan></text></g><text x="479" y="448.2" font-family='"Liberation Serif", serif' font-weight="bold" font-size="21" fill="#000">f</text><g transform="translate(496.50,579.30) rotate(-90) scale(1.1584,1.0000)"><text font-family='"Liberation Sans", sans-serif' font-weight="normal" xml:space="preserve"><tspan x="0.00" y="0.00" fill="#111" font-size="9.00" stroke="#111" stroke-width="0.4">I</tspan><tspan x="2.50" y="2.52" fill="#111" font-size="7.65" stroke="#111" stroke-width="0.4">DS</tspan><tspan x="13.13" y="0.00" fill="#111" font-size="9.00" stroke="#111" stroke-width="0.4"> [mA/mm]</tspan></text></g><g transform="translate(578.70,625.40) scale(1.0700,1.0000)"><text font-family='"Liberation Sans", sans-serif' font-weight="normal" xml:space="preserve"><tspan x="0.00" y="0.00" fill="#111" font-size="9.00" stroke="#111" stroke-width="0.4">V</tspan><tspan x="6.00" y="2.52" fill="#111" font-size="7.65" stroke="#111" stroke-width="0.4">GS</tspan><tspan x="17.06" y="0.00" fill="#111" font-size="9.00" stroke="#111" stroke-width="0.4"> [V]</tspan></text></g><path d="M38.40,253.65V378.10H202.60" fill="none" stroke="#404040" stroke-width="1.1"/><path d="M35.20,378.10H38.40M35.20,365.00H38.40M35.20,351.90H38.40M35.20,338.80H38.40M35.20,325.70H38.40M35.20,312.60H38.40M35.20,299.50H38.40M35.20,286.40H38.40M35.20,273.30H38.40M35.20,260.20H38.40M36.60,371.55H38.40M36.60,358.45H38.40M36.60,345.35H38.40M36.60,332.25H38.40M36.60,319.15H38.40M36.60,306.05H38.40M36.60,292.95H38.40M36.60,279.85H38.40M36.60,266.75H38.40M36.60,253.65H38.40M47.72,378.10V381.30M67.08,378.10V381.30M86.44,378.10V381.30M105.80,378.10V381.30M125.16,378.10V381.30M144.52,378.10V381.30M163.88,378.10V381.30M183.24,378.10V381.30M202.60,378.10V381.30M38.04,378.10V379.90M57.40,378.10V379.90M76.76,378.10V379.90M96.12,378.10V379.90M115.48,378.10V379.90M134.84,378.10V379.90M154.20,378.10V379.90M173.56,378.10V379.90M192.92,378.10V379.90" fill="none" stroke="#404040" stroke-width="0.9"/><g font-family='"Liberation Sans", sans-serif' font-weight="bold" font-size="8.8" fill="#1c1c1c"><text transform="translate(33.40,381.18) scale(1.0,1)" text-anchor="end">-0.5</text><text transform="translate(33.40,368.08) scale(1.0,1)" text-anchor="end">0.0</text><text transform="translate(33.40,354.98) scale(1.0,1)" text-anchor="end">0.5</text><text transform="translate(33.40,341.88) scale(1.0,1)" text-anchor="end">1.0</text><text transform="translate(33.40,328.78) scale(1.0,1)" text-anchor="end">1.5</text><text transform="translate(33.40,315.68) scale(1.0,1)" text-anchor="end">2.0</text><text transform="translate(33.40,302.58) scale(1.0,1)" text-anchor="end">2.5</text><text transform="translate(33.40,289.48) scale(1.0,1)" text-anchor="end">3.0</text><text transform="translate(33.40,276.38) scale(1.0,1)" text-anchor="end">3.5</text><text transform="translate(33.40,263.28) scale(1.0,1)" text-anchor="end">4.0</text><text transform="translate(47.72,389.80) scale(1.0,1)" text-anchor="middle">30</text><text transform="translate(67.08,389.80) scale(1.0,1)" text-anchor="middle">20</text><text transform="translate(86.44,389.80) scale(1.0,1)" text-anchor="middle">10</text><text transform="translate(105.80,389.80) scale(1.0,1)" text-anchor="middle">0</text><text transform="translate(125.16,389.80) scale(1.0,1)" text-anchor="middle">-10</text><text transform="translate(144.52,389.80) scale(1.0,1)" text-anchor="middle">-20</text><text transform="translate(163.88,389.80) scale(1.0,1)" text-anchor="middle">-30</text><text transform="translate(183.24,389.80) scale(1.0,1)" text-anchor="middle">-40</text><text transform="translate(202.60,389.80) scale(1.0,1)" text-anchor="middle">-50</text></g><polyline points="55.46,365.00 63.21,365.00 70.95,365.00 78.70,365.00 86.44,365.00 94.18,365.00 101.93,365.00 109.67,363.69 117.42,325.18 125.16,302.91 132.90,289.54 140.65,283.52 148.39,279.59 156.14,276.18 163.88,273.82 171.62,272.51 179.37,267.27 187.11,269.37" fill="none" stroke="#000000" stroke-width="1.4" stroke-linejoin="round" marker-start="url(#m_bs_000000_100)" marker-mid="url(#m_bs_000000_100)" marker-end="url(#m_bs_000000_100)"/><g transform="translate(47.60,266.40) scale(1.0825,1.0000)"><text font-family='"Liberation Serif", serif' font-weight="bold" xml:space="preserve"><tspan x="0.00" y="0.00" fill="#111" font-size="8.30" stroke="#111" stroke-width="0.2">V</tspan><tspan x="5.99" y="1.66" fill="#111" font-size="5.81" stroke="#111" stroke-width="0.2">DS</tspan><tspan x="13.42" y="0.00" fill="#111" font-size="8.30" stroke="#111" stroke-width="0.2"> = -5 [V]</tspan></text></g><g transform="translate(47.60,277.10) scale(1.0825,1.0000)"><text font-family='"Liberation Serif", serif' font-weight="bold" xml:space="preserve"><tspan x="0.00" y="0.00" fill="#111" font-size="8.30" stroke="#111" stroke-width="0.2">V</tspan><tspan x="5.99" y="1.66" fill="#111" font-size="5.81" stroke="#111" stroke-width="0.2">th</tspan><tspan x="11.16" y="0.00" fill="#111" font-size="8.30" stroke="#111" stroke-width="0.2">= -3.5 [V]</tspan></text></g><g transform="translate(47.60,287.80) scale(1.0825,1.0000)"><text font-family='"Liberation Serif", serif' font-weight="bold" xml:space="preserve"><tspan x="0.00" y="0.00" fill="#111" font-size="8.30" stroke="#111" stroke-width="0.2">Normally-off</tspan></text></g><g transform="translate(47.60,298.50) scale(1.0825,1.0000)"><text font-family='"Liberation Serif", serif' font-weight="bold" xml:space="preserve"><tspan x="0.00" y="0.00" fill="#f21818" font-size="8.30" stroke="#f21818" stroke-width="0.2">Simulation</tspan></text></g><g transform="translate(15.10,346.70) rotate(-90) scale(1.2221,1.0000)"><text font-family='"Liberation Serif", serif' font-weight="bold" xml:space="preserve"><tspan x="0.00" y="0.00" fill="#111" font-size="10.50" font-style="italic">I</tspan><tspan x="4.09" y="2.10" fill="#111" font-size="7.35" font-style="italic">DS</tspan><tspan x="13.48" y="0.00" fill="#111" font-size="9.03"> (mA/mm)</tspan></text></g><path d="M5.60,280.50V348.20L17.60,351.20L13.60,354.20" fill="none" stroke="#2a2a2a" stroke-width="1.1" stroke-linejoin="miter"/><g transform="translate(103.40,406.10) scale(1.1093,1.0000)"><text font-family='"Liberation Sans", sans-serif' font-weight="normal" xml:space="preserve"><tspan x="0.00" y="0.00" fill="#111" font-size="9.00" stroke="#111" stroke-width="0.4">V</tspan><tspan x="6.00" y="2.52" fill="#111" font-size="7.65" stroke="#111" stroke-width="0.4">GS</tspan><tspan x="17.06" y="0.00" fill="#111" font-size="9.00" stroke="#111" stroke-width="0.4"> [V]</tspan></text></g><path d="M277.70,263.60V378.80H435.30" fill="none" stroke="#404040" stroke-width="1.1"/><path d="M274.50,378.80H277.70M274.50,366.00H277.70M274.50,353.20H277.70M274.50,340.40H277.70M274.50,327.60H277.70M274.50,314.80H277.70M274.50,302.00H277.70M274.50,289.20H277.70M274.50,276.40H277.70M274.50,263.60H277.70M275.90,372.40H277.70M275.90,359.60H277.70M275.90,346.80H277.70M275.90,334.00H277.70M275.90,321.20H277.70M275.90,308.40H277.70M275.90,295.60H277.70M275.90,282.80H277.70M275.90,270.00H277.70M286.50,378.80V382.00M305.10,378.80V382.00M323.70,378.80V382.00M342.30,378.80V382.00M360.90,378.80V382.00M379.50,378.80V382.00M398.10,378.80V382.00M416.70,378.80V382.00M435.30,378.80V382.00M277.20,378.80V380.60M295.80,378.80V380.60M314.40,378.80V380.60M333.00,378.80V380.60M351.60,378.80V380.60M370.20,378.80V380.60M388.80,378.80V380.60M407.40,378.80V380.60M426.00,378.80V380.60" fill="none" stroke="#404040" stroke-width="0.9"/><g font-family='"Liberation Sans", sans-serif' font-weight="bold" font-size="8.8" fill="#1c1c1c"><text transform="translate(273.30,381.88) scale(1.0,1)" text-anchor="end">-0.5</text><text transform="translate(273.30,369.08) scale(1.0,1)" text-anchor="end">0.0</text><text transform="translate(273.30,356.28) scale(1.0,1)" text-anchor="end">0.5</text><text transform="translate(273.30,343.48) scale(1.0,1)" text-anchor="end">1.0</text><text transform="translate(273.30,330.68) scale(1.0,1)" text-anchor="end">1.5</text><text transform="translate(273.30,317.88) scale(1.0,1)" text-anchor="end">2.0</text><text transform="translate(273.30,305.08) scale(1.0,1)" text-anchor="end">2.5</text><text transform="translate(273.30,292.28) scale(1.0,1)" text-anchor="end">3.0</text><text transform="translate(273.30,279.48) scale(1.0,1)" text-anchor="end">3.5</text><text transform="translate(273.30,266.68) scale(1.0,1)" text-anchor="end">4.0</text><text transform="translate(286.50,390.00) scale(1.0,1)" text-anchor="middle">30</text><text transform="translate(305.10,390.00) scale(1.0,1)" text-anchor="middle">20</text><text transform="translate(323.70,390.00) scale(1.0,1)" text-anchor="middle">10</text><text transform="translate(342.30,390.00) scale(1.0,1)" text-anchor="middle">0</text><text transform="translate(360.90,390.00) scale(1.0,1)" text-anchor="middle">-10</text><text transform="translate(379.50,390.00) scale(1.0,1)" text-anchor="middle">-20</text><text transform="translate(398.10,390.00) scale(1.0,1)" text-anchor="middle">-30</text><text transform="translate(416.70,390.00) scale(1.0,1)" text-anchor="middle">-40</text><text transform="translate(435.30,390.00) scale(1.0,1)" text-anchor="middle">-50</text></g><polyline points="293.94,366.00 301.38,366.00 308.82,366.00 316.26,366.00 323.70,366.00 331.14,366.00 338.58,366.00 346.02,366.00 353.46,334.51 360.90,314.03 368.34,303.54 375.78,295.09 383.22,290.74 390.66,287.92 398.10,286.64 405.54,285.62 412.98,284.85 420.42,284.08" fill="none" stroke="#000000" stroke-width="1.4" stroke-linejoin="round" marker-start="url(#m_bs_000000_100)" marker-mid="url(#m_bs_000000_100)" marker-end="url(#m_bs_000000_100)"/><g transform="translate(284.40,270.20) scale(1.0924,1.0000)"><text font-family='"Liberation Serif", serif' font-weight="bold" xml:space="preserve"><tspan x="0.00" y="0.00" fill="#111" font-size="9.00" stroke="#111" stroke-width="0.2">V</tspan><tspan x="6.50" y="1.80" fill="#111" font-size="6.30" stroke="#111" stroke-width="0.2">DS</tspan><tspan x="14.55" y="0.00" fill="#111" font-size="9.00" stroke="#111" stroke-width="0.2"> = -5 [V]</tspan></text></g><g transform="translate(284.40,282.00) scale(1.0924,1.0000)"><text font-family='"Liberation Serif", serif' font-weight="bold" xml:space="preserve"><tspan x="0.00" y="0.00" fill="#111" font-size="9.00" stroke="#111" stroke-width="0.2">V</tspan><tspan x="6.50" y="1.80" fill="#111" font-size="6.30" stroke="#111" stroke-width="0.2">th</tspan><tspan x="12.10" y="0.00" fill="#111" font-size="9.00" stroke="#111" stroke-width="0.2">= -3.5 [V]</tspan></text></g><g transform="translate(284.40,293.80) scale(1.0924,1.0000)"><text font-family='"Liberation Serif", serif' font-weight="bold" xml:space="preserve"><tspan x="0.00" y="0.00" fill="#111" font-size="9.00" stroke="#111" stroke-width="0.2">Normally-off</tspan></text></g><g transform="translate(284.40,305.60) scale(1.0924,1.0000)"><text font-family='"Liberation Serif", serif' font-weight="bold" xml:space="preserve"><tspan x="0.00" y="0.00" fill="#f21818" font-size="9.00" stroke="#f21818" stroke-width="0.2">Simulation</tspan></text></g><g transform="translate(254.60,353.30) rotate(-90) scale(1.2435,1.0000)"><text font-family='"Liberation Serif", serif' font-weight="bold" xml:space="preserve"><tspan x="0.00" y="0.00" fill="#111" font-size="11.00" font-style="italic">I</tspan><tspan x="4.28" y="2.20" fill="#111" font-size="7.70" font-style="italic">DS</tspan><tspan x="14.12" y="0.00" fill="#111" font-size="9.46"> (mA/mm)</tspan></text></g><path d="M245.10,282.80V354.80L257.10,357.80L253.10,360.80" fill="none" stroke="#2a2a2a" stroke-width="1.1" stroke-linejoin="miter"/><g transform="translate(339.10,403.40) scale(1.0798,1.0000)"><text font-family='"Liberation Sans", sans-serif' font-weight="normal" xml:space="preserve"><tspan x="0.00" y="0.00" fill="#111" font-size="9.00" stroke="#111" stroke-width="0.4">V</tspan><tspan x="6.00" y="2.52" fill="#111" font-size="7.65" stroke="#111" stroke-width="0.4">GS</tspan><tspan x="17.06" y="0.00" fill="#111" font-size="9.00" stroke="#111" stroke-width="0.4"> [V]</tspan></text></g><path d="M516.40,262.80V378.00H672.80" fill="none" stroke="#404040" stroke-width="1.1"/><path d="M513.20,378.00H516.40M513.20,365.20H516.40M513.20,352.40H516.40M513.20,339.60H516.40M513.20,326.80H516.40M513.20,314.00H516.40M513.20,301.20H516.40M513.20,288.40H516.40M513.20,275.60H516.40M513.20,262.80H516.40M514.60,371.60H516.40M514.60,358.80H516.40M514.60,346.00H516.40M514.60,333.20H516.40M514.60,320.40H516.40M514.60,307.60H516.40M514.60,294.80H516.40M514.60,282.00H516.40M514.60,269.20H516.40M525.60,378.00V381.20M544.00,378.00V381.20M562.40,378.00V381.20M580.80,378.00V381.20M599.20,378.00V381.20M617.60,378.00V381.20M636.00,378.00V381.20M654.40,378.00V381.20M672.80,378.00V381.20M516.40,378.00V379.80M534.80,378.00V379.80M553.20,378.00V379.80M571.60,378.00V379.80M590.00,378.00V379.80M608.40,378.00V379.80M626.80,378.00V379.80M645.20,378.00V379.80M663.60,378.00V379.80" fill="none" stroke="#404040" stroke-width="0.9"/><g font-family='"Liberation Sans", sans-serif' font-weight="bold" font-size="8.8" fill="#1c1c1c"><text transform="translate(512.00,381.08) scale(1.0,1)" text-anchor="end">-0.5</text><text transform="translate(512.00,368.28) scale(1.0,1)" text-anchor="end">0.0</text><text transform="translate(512.00,355.48) scale(1.0,1)" text-anchor="end">0.5</text><text transform="translate(512.00,342.68) scale(1.0,1)" text-anchor="end">1.0</text><text transform="translate(512.00,329.88) scale(1.0,1)" text-anchor="end">1.5</text><text transform="translate(512.00,317.08) scale(1.0,1)" text-anchor="end">2.0</text><text transform="translate(512.00,304.28) scale(1.0,1)" text-anchor="end">2.5</text><text transform="translate(512.00,291.48) scale(1.0,1)" text-anchor="end">3.0</text><text transform="translate(512.00,278.68) scale(1.0,1)" text-anchor="end">3.5</text><text transform="translate(512.00,265.88) scale(1.0,1)" text-anchor="end">4.0</text><text transform="translate(525.60,389.20) scale(1.0,1)" text-anchor="middle">30</text><text transform="translate(544.00,389.20) scale(1.0,1)" text-anchor="middle">20</text><text transform="translate(562.40,389.20) scale(1.0,1)" text-anchor="middle">10</text><text transform="translate(580.80,389.20) scale(1.0,1)" text-anchor="middle">0</text><text transform="translate(599.20,389.20) scale(1.0,1)" text-anchor="middle">-10</text><text transform="translate(617.60,389.20) scale(1.0,1)" text-anchor="middle">-20</text><text transform="translate(636.00,389.20) scale(1.0,1)" text-anchor="middle">-30</text><text transform="translate(654.40,389.20) scale(1.0,1)" text-anchor="middle">-40</text><text transform="translate(672.80,389.20) scale(1.0,1)" text-anchor="middle">-50</text></g><polyline points="532.96,365.20 540.32,365.20 547.68,365.20 555.04,365.20 562.40,365.20 569.76,365.20 577.12,365.20 584.48,365.20 591.84,364.43 599.20,363.92 606.56,363.66 613.92,363.54 621.28,363.41 628.64,363.28 636.00,363.15 643.36,363.02 650.72,362.90 658.08,362.77" fill="none" stroke="#000000" stroke-width="1.4" stroke-linejoin="round" marker-start="url(#m_bs_000000_100)" marker-mid="url(#m_bs_000000_100)" marker-end="url(#m_bs_000000_100)"/><path d="M584.6,367V375.5" stroke="#4a7fd0" stroke-width="0.8"/><path d="M583.0,374.8L584.6,378L586.2,374.8Z" fill="#4a7fd0"/><g transform="translate(527.90,272.50) scale(1.1144,1.0000)"><text font-family='"Liberation Serif", serif' font-weight="bold" xml:space="preserve"><tspan x="0.00" y="0.00" fill="#111" font-size="9.00" stroke="#111" stroke-width="0.2">V</tspan><tspan x="6.50" y="1.80" fill="#111" font-size="6.30" stroke="#111" stroke-width="0.2">DS</tspan><tspan x="14.55" y="0.00" fill="#111" font-size="9.00" stroke="#111" stroke-width="0.2"> = -5 [V]</tspan></text></g><g transform="translate(527.90,284.20) scale(1.1144,1.0000)"><text font-family='"Liberation Serif", serif' font-weight="bold" xml:space="preserve"><tspan x="0.00" y="0.00" fill="#111" font-size="9.00" stroke="#111" stroke-width="0.2">V</tspan><tspan x="6.50" y="1.80" fill="#111" font-size="6.30" stroke="#111" stroke-width="0.2">th</tspan><tspan x="12.10" y="0.00" fill="#111" font-size="9.00" stroke="#111" stroke-width="0.2">= -3.5 [V]</tspan></text></g><g transform="translate(527.90,295.90) scale(1.1144,1.0000)"><text font-family='"Liberation Serif", serif' font-weight="bold" xml:space="preserve"><tspan x="0.00" y="0.00" fill="#111" font-size="9.00" stroke="#111" stroke-width="0.2">Normally-off</tspan></text></g><g transform="translate(527.90,307.60) scale(1.1144,1.0000)"><text font-family='"Liberation Serif", serif' font-weight="bold" xml:space="preserve"><tspan x="0.00" y="0.00" fill="#f21818" font-size="9.00" stroke="#f21818" stroke-width="0.2">Simulation</tspan></text></g><g transform="translate(496.70,347.20) rotate(-90) scale(1.1734,1.0000)"><text font-family='"Liberation Serif", serif' font-weight="bold" xml:space="preserve"><tspan x="0.00" y="0.00" fill="#111" font-size="10.50" font-style="italic">I</tspan><tspan x="4.09" y="2.10" fill="#111" font-size="7.35" font-style="italic">DS</tspan><tspan x="13.48" y="0.00" fill="#111" font-size="9.03"> (mA/mm)</tspan></text></g><path d="M487.20,283.60V348.70L499.20,351.70L495.20,354.70" fill="none" stroke="#2a2a2a" stroke-width="1.1" stroke-linejoin="miter"/><g transform="translate(578.40,404.70) scale(1.0602,1.0000)"><text font-family='"Liberation Sans", sans-serif' font-weight="normal" xml:space="preserve"><tspan x="0.00" y="0.00" fill="#111" font-size="9.00" stroke="#111" stroke-width="0.4">V</tspan><tspan x="6.00" y="2.52" fill="#111" font-size="7.65" stroke="#111" stroke-width="0.4">GS</tspan><tspan x="17.06" y="0.00" fill="#111" font-size="9.00" stroke="#111" stroke-width="0.4"> [V]</tspan></text></g><path d="M40.10,657.10V774.40H184.60" fill="none" stroke="#404040" stroke-width="1.1"/><path d="M36.90,767.50H40.10M36.90,753.70H40.10M36.90,739.90H40.10M36.90,726.10H40.10M36.90,712.30H40.10M36.90,698.50H40.10M36.90,684.70H40.10M36.90,670.90H40.10M36.90,657.10H40.10M38.30,774.40H40.10M38.30,760.60H40.10M38.30,746.80H40.10M38.30,733.00H40.10M38.30,719.20H40.10M38.30,705.40H40.10M38.30,691.60H40.10M38.30,677.80H40.10M38.30,664.00H40.10M39.70,774.40V777.60M60.40,774.40V777.60M81.10,774.40V777.60M101.80,774.40V777.60M122.50,774.40V777.60M143.20,774.40V777.60M163.90,774.40V777.60M184.60,774.40V777.60M50.05,774.40V776.20M70.75,774.40V776.20M91.45,774.40V776.20M112.15,774.40V776.20M132.85,774.40V776.20M153.55,774.40V776.20M174.25,774.40V776.20" fill="none" stroke="#404040" stroke-width="0.9"/><g font-family='"Liberation Sans", sans-serif' font-weight="bold" font-size="8.8" fill="#1c1c1c"><text transform="translate(35.70,770.58) scale(1.0,1)" text-anchor="end">0.0</text><text transform="translate(35.70,756.78) scale(1.0,1)" text-anchor="end">0.5</text><text transform="translate(35.70,742.98) scale(1.0,1)" text-anchor="end">1.0</text><text transform="translate(35.70,729.18) scale(1.0,1)" text-anchor="end">1.5</text><text transform="translate(35.70,715.38) scale(1.0,1)" text-anchor="end">2.0</text><text transform="translate(35.70,701.58) scale(1.0,1)" text-anchor="end">2.5</text><text transform="translate(35.70,687.78) scale(1.0,1)" text-anchor="end">3.0</text><text transform="translate(35.70,673.98) scale(1.0,1)" text-anchor="end">3.5</text><text transform="translate(35.70,660.18) scale(1.0,1)" text-anchor="end">4.0</text><text transform="translate(39.70,785.80) scale(1.0,1)" text-anchor="middle">20</text><text transform="translate(60.40,785.80) scale(1.0,1)" text-anchor="middle">10</text><text transform="translate(81.10,785.80) scale(1.0,1)" text-anchor="middle">0</text><text transform="translate(101.80,785.80) scale(1.0,1)" text-anchor="middle">-10</text><text transform="translate(122.50,785.80) scale(1.0,1)" text-anchor="middle">-20</text><text transform="translate(143.20,785.80) scale(1.0,1)" text-anchor="middle">-30</text><text transform="translate(163.90,785.80) scale(1.0,1)" text-anchor="middle">-40</text><text transform="translate(184.60,785.80) scale(1.0,1)" text-anchor="middle">-50</text></g><polyline points="52.12,767.50 60.40,767.50 68.68,767.50 76.96,767.50 85.24,767.50 93.52,754.25 101.80,733.00 110.08,722.51 118.36,719.20 126.64,718.37 134.92,717.82 143.20,717.27 151.48,716.72 159.76,716.44 168.04,716.44" fill="none" stroke="#000000" stroke-width="1.4" stroke-linejoin="round" marker-start="url(#m_bs_000000_100)" marker-mid="url(#m_bs_000000_100)" marker-end="url(#m_bs_000000_100)"/><g transform="translate(51.80,665.80) scale(1.0143,1.0000)"><text font-family='"Liberation Serif", serif' font-weight="bold" xml:space="preserve"><tspan x="0.00" y="0.00" fill="#111" font-size="9.00" stroke="#111" stroke-width="0.2">V</tspan><tspan x="6.50" y="1.80" fill="#111" font-size="6.30" stroke="#111" stroke-width="0.2">DS</tspan><tspan x="14.55" y="0.00" fill="#111" font-size="9.00" stroke="#111" stroke-width="0.2"> = -5 [V]</tspan></text></g><g transform="translate(51.80,677.70) scale(1.0143,1.0000)"><text font-family='"Liberation Serif", serif' font-weight="bold" xml:space="preserve"><tspan x="0.00" y="0.00" fill="#111" font-size="9.00" stroke="#111" stroke-width="0.2">V</tspan><tspan x="6.50" y="1.80" fill="#111" font-size="6.30" stroke="#111" stroke-width="0.2">th</tspan><tspan x="12.10" y="0.00" fill="#111" font-size="9.00" stroke="#111" stroke-width="0.2">= -3.5 [V]</tspan></text></g><g transform="translate(51.80,689.60) scale(1.0143,1.0000)"><text font-family='"Liberation Serif", serif' font-weight="bold" xml:space="preserve"><tspan x="0.00" y="0.00" fill="#111" font-size="9.00" stroke="#111" stroke-width="0.2">Normally-off</tspan></text></g><g transform="translate(51.80,701.50) scale(1.0143,1.0000)"><text font-family='"Liberation Serif", serif' font-weight="bold" xml:space="preserve"><tspan x="0.00" y="0.00" fill="#f21818" font-size="9.00" stroke="#f21818" stroke-width="0.2">Simulation</tspan></text></g><g transform="translate(20.00,747.70) rotate(-90) scale(1.2435,1.0000)"><text font-family='"Liberation Serif", serif' font-weight="bold" xml:space="preserve"><tspan x="0.00" y="0.00" fill="#111" font-size="11.00" font-style="italic">I</tspan><tspan x="4.28" y="2.20" fill="#111" font-size="7.70" font-style="italic">DS</tspan><tspan x="14.12" y="0.00" fill="#111" font-size="9.46"> (mA/mm)</tspan></text></g><path d="M10.50,677.20V749.20L22.50,752.20L18.50,755.20" fill="none" stroke="#2a2a2a" stroke-width="1.1" stroke-linejoin="miter"/><g transform="translate(92.90,799.00) scale(0.9784,1.0000)"><text font-family='"Liberation Sans", sans-serif' font-weight="normal" xml:space="preserve"><tspan x="0.00" y="0.00" fill="#111" font-size="9.00" stroke="#111" stroke-width="0.4">V</tspan><tspan x="6.00" y="2.52" fill="#111" font-size="7.65" stroke="#111" stroke-width="0.4">GS</tspan><tspan x="17.06" y="0.00" fill="#111" font-size="9.00" stroke="#111" stroke-width="0.4"> [V]</tspan></text></g><path d="M278.20,661.10V777.55H434.50" fill="none" stroke="#404040" stroke-width="1.1"/><path d="M275.00,770.70H278.20M275.00,757.00H278.20M275.00,743.30H278.20M275.00,729.60H278.20M275.00,715.90H278.20M275.00,702.20H278.20M275.00,688.50H278.20M275.00,674.80H278.20M275.00,661.10H278.20M276.40,777.55H278.20M276.40,763.85H278.20M276.40,750.15H278.20M276.40,736.45H278.20M276.40,722.75H278.20M276.40,709.05H278.20M276.40,695.35H278.20M276.40,681.65H278.20M276.40,667.95H278.20M278.40,777.55V780.75M300.70,777.55V780.75M323.00,777.55V780.75M345.30,777.55V780.75M367.60,777.55V780.75M389.90,777.55V780.75M412.20,777.55V780.75M434.50,777.55V780.75M289.55,777.55V779.35M311.85,777.55V779.35M334.15,777.55V779.35M356.45,777.55V779.35M378.75,777.55V779.35M401.05,777.55V779.35M423.35,777.55V779.35" fill="none" stroke="#404040" stroke-width="0.9"/><g font-family='"Liberation Sans", sans-serif' font-weight="bold" font-size="8.8" fill="#1c1c1c"><text transform="translate(273.60,773.78) scale(1.0,1)" text-anchor="end">0.0</text><text transform="translate(273.60,760.08) scale(1.0,1)" text-anchor="end">0.5</text><text transform="translate(273.60,746.38) scale(1.0,1)" text-anchor="end">1.0</text><text transform="translate(273.60,732.68) scale(1.0,1)" text-anchor="end">1.5</text><text transform="translate(273.60,718.98) scale(1.0,1)" text-anchor="end">2.0</text><text transform="translate(273.60,705.28) scale(1.0,1)" text-anchor="end">2.5</text><text transform="translate(273.60,691.58) scale(1.0,1)" text-anchor="end">3.0</text><text transform="translate(273.60,677.88) scale(1.0,1)" text-anchor="end">3.5</text><text transform="translate(273.60,664.18) scale(1.0,1)" text-anchor="end">4.0</text><text transform="translate(278.40,788.10) scale(1.0,1)" text-anchor="middle">20</text><text transform="translate(300.70,788.10) scale(1.0,1)" text-anchor="middle">10</text><text transform="translate(323.00,788.10) scale(1.0,1)" text-anchor="middle">0</text><text transform="translate(345.30,788.10) scale(1.0,1)" text-anchor="middle">-10</text><text transform="translate(367.60,788.10) scale(1.0,1)" text-anchor="middle">-20</text><text transform="translate(389.90,788.10) scale(1.0,1)" text-anchor="middle">-30</text><text transform="translate(412.20,788.10) scale(1.0,1)" text-anchor="middle">-40</text><text transform="translate(434.50,788.10) scale(1.0,1)" text-anchor="middle">-50</text></g><polyline points="291.78,770.70 300.70,770.70 309.62,770.70 318.54,770.70 327.46,770.70 336.38,766.04 345.30,746.86 354.22,730.42 363.14,725.49 372.06,723.57 380.98,722.48 389.90,721.93 398.82,721.65 407.74,721.38 416.66,721.11" fill="none" stroke="#000000" stroke-width="1.4" stroke-linejoin="round" marker-start="url(#m_bs_000000_100)" marker-mid="url(#m_bs_000000_100)" marker-end="url(#m_bs_000000_100)"/><g transform="translate(288.60,669.00) scale(1.0509,1.0000)"><text font-family='"Liberation Sans", sans-serif' font-weight="bold" xml:space="preserve"><tspan x="0.00" y="0.00" fill="#111" font-size="9.00" stroke="#111" stroke-width="0.2">V</tspan><tspan x="6.00" y="1.80" fill="#111" font-size="6.30" stroke="#111" stroke-width="0.2">DS</tspan><tspan x="14.75" y="0.00" fill="#111" font-size="9.00" stroke="#111" stroke-width="0.2"> = -5 [V]</tspan></text></g><g transform="translate(288.60,681.40) scale(1.0509,1.0000)"><text font-family='"Liberation Sans", sans-serif' font-weight="bold" xml:space="preserve"><tspan x="0.00" y="0.00" fill="#111" font-size="9.00" stroke="#111" stroke-width="0.2">V</tspan><tspan x="6.00" y="1.80" fill="#111" font-size="6.30" stroke="#111" stroke-width="0.2">th</tspan><tspan x="11.95" y="0.00" fill="#111" font-size="9.00" stroke="#111" stroke-width="0.2">= -5 [V]</tspan></text></g><g transform="translate(288.60,693.80) scale(1.0509,1.0000)"><text font-family='"Liberation Sans", sans-serif' font-weight="bold" xml:space="preserve"><tspan x="0.00" y="0.00" fill="#111" font-size="9.00" stroke="#111" stroke-width="0.2">Normally-off</tspan></text></g><g transform="translate(288.60,706.20) scale(1.0509,1.0000)"><text font-family='"Liberation Sans", sans-serif' font-weight="bold" xml:space="preserve"><tspan x="0.00" y="0.00" fill="#f21818" font-size="9.00" stroke="#f21818" stroke-width="0.2">Simulation</tspan></text></g><g transform="translate(251.50,750.60) rotate(-90) scale(1.2510,1.0000)"><text font-family='"Liberation Serif", serif' font-weight="bold" xml:space="preserve"><tspan x="0.00" y="0.00" fill="#111" font-size="11.50" font-style="italic">I</tspan><tspan x="4.48" y="2.30" fill="#111" font-size="8.05" font-style="italic">DS</tspan><tspan x="14.77" y="0.00" fill="#111" font-size="9.89"> (mA/mm)</tspan></text></g><path d="M242.00,676.50V752.10L254.00,755.10L250.00,758.10" fill="none" stroke="#2a2a2a" stroke-width="1.1" stroke-linejoin="miter"/><g transform="translate(335.30,800.60) scale(1.0700,1.0000)"><text font-family='"Liberation Sans", sans-serif' font-weight="normal" xml:space="preserve"><tspan x="0.00" y="0.00" fill="#111" font-size="9.00" stroke="#111" stroke-width="0.4">V</tspan><tspan x="6.00" y="2.52" fill="#111" font-size="7.65" stroke="#111" stroke-width="0.4">GS</tspan><tspan x="17.06" y="0.00" fill="#111" font-size="9.00" stroke="#111" stroke-width="0.4"> [V]</tspan></text></g><path d="M516.60,663.20V779.44H672.50" fill="none" stroke="#404040" stroke-width="1.1"/><path d="M513.40,772.60H516.60M513.40,758.93H516.60M513.40,745.25H516.60M513.40,731.58H516.60M513.40,717.90H516.60M513.40,704.23H516.60M513.40,690.55H516.60M513.40,676.88H516.60M513.40,663.20H516.60M514.80,779.44H516.60M514.80,765.76H516.60M514.80,752.09H516.60M514.80,738.41H516.60M514.80,724.74H516.60M514.80,711.06H516.60M514.80,697.39H516.60M514.80,683.71H516.60M514.80,670.04H516.60M516.40,779.44V782.64M538.70,779.44V782.64M561.00,779.44V782.64M583.30,779.44V782.64M605.60,779.44V782.64M627.90,779.44V782.64M650.20,779.44V782.64M672.50,779.44V782.64M527.55,779.44V781.24M549.85,779.44V781.24M572.15,779.44V781.24M594.45,779.44V781.24M616.75,779.44V781.24M639.05,779.44V781.24M661.35,779.44V781.24" fill="none" stroke="#404040" stroke-width="0.9"/><g font-family='"Liberation Sans", sans-serif' font-weight="bold" font-size="8.8" fill="#1c1c1c"><text transform="translate(512.20,775.68) scale(1.0,1)" text-anchor="end">0.0</text><text transform="translate(512.20,762.01) scale(1.0,1)" text-anchor="end">0.5</text><text transform="translate(512.20,748.33) scale(1.0,1)" text-anchor="end">1.0</text><text transform="translate(512.20,734.66) scale(1.0,1)" text-anchor="end">1.5</text><text transform="translate(512.20,720.98) scale(1.0,1)" text-anchor="end">2.0</text><text transform="translate(512.20,707.31) scale(1.0,1)" text-anchor="end">2.5</text><text transform="translate(512.20,693.63) scale(1.0,1)" text-anchor="end">3.0</text><text transform="translate(512.20,679.96) scale(1.0,1)" text-anchor="end">3.5</text><text transform="translate(512.20,666.28) scale(1.0,1)" text-anchor="end">4.0</text><text transform="translate(516.40,789.10) scale(1.0,1)" text-anchor="middle">20</text><text transform="translate(538.70,789.10) scale(1.0,1)" text-anchor="middle">10</text><text transform="translate(561.00,789.10) scale(1.0,1)" text-anchor="middle">0</text><text transform="translate(583.30,789.10) scale(1.0,1)" text-anchor="middle">-10</text><text transform="translate(605.60,789.10) scale(1.0,1)" text-anchor="middle">-20</text><text transform="translate(627.90,789.10) scale(1.0,1)" text-anchor="middle">-30</text><text transform="translate(650.20,789.10) scale(1.0,1)" text-anchor="middle">-40</text><text transform="translate(672.50,789.10) scale(1.0,1)" text-anchor="middle">-50</text></g><polyline points="529.78,772.60 538.70,772.60 547.62,772.60 556.54,772.60 565.46,772.60 574.38,772.60 583.30,764.67 592.22,748.53 601.14,735.68 610.06,730.75 618.98,728.57 627.90,727.47 636.82,727.20 645.74,726.65 654.66,726.38" fill="none" stroke="#000000" stroke-width="1.4" stroke-linejoin="round" marker-start="url(#m_bs_000000_100)" marker-mid="url(#m_bs_000000_100)" marker-end="url(#m_bs_000000_100)"/><g transform="translate(525.60,668.10) scale(1.0509,1.0000)"><text font-family='"Liberation Sans", sans-serif' font-weight="bold" xml:space="preserve"><tspan x="0.00" y="0.00" fill="#111" font-size="9.00" stroke="#111" stroke-width="0.2">V</tspan><tspan x="6.00" y="1.80" fill="#111" font-size="6.30" stroke="#111" stroke-width="0.2">DS</tspan><tspan x="14.75" y="0.00" fill="#111" font-size="9.00" stroke="#111" stroke-width="0.2"> = -5 [V]</tspan></text></g><g transform="translate(525.60,680.60) scale(1.0509,1.0000)"><text font-family='"Liberation Sans", sans-serif' font-weight="bold" xml:space="preserve"><tspan x="0.00" y="0.00" fill="#111" font-size="9.00" stroke="#111" stroke-width="0.2">V</tspan><tspan x="6.00" y="1.80" fill="#111" font-size="6.30" stroke="#111" stroke-width="0.2">th</tspan><tspan x="11.95" y="0.00" fill="#111" font-size="9.00" stroke="#111" stroke-width="0.2">= -6 [V]</tspan></text></g><g transform="translate(525.60,693.10) scale(1.0509,1.0000)"><text font-family='"Liberation Sans", sans-serif' font-weight="bold" xml:space="preserve"><tspan x="0.00" y="0.00" fill="#111" font-size="9.00" stroke="#111" stroke-width="0.2">Normally-off</tspan></text></g><g transform="translate(525.60,705.60) scale(1.0509,1.0000)"><text font-family='"Liberation Sans", sans-serif' font-weight="bold" xml:space="preserve"><tspan x="0.00" y="0.00" fill="#f21818" font-size="9.00" stroke="#f21818" stroke-width="0.2">Simulation</tspan></text></g><g transform="translate(491.90,752.60) rotate(-90) scale(1.2391,1.0000)"><text font-family='"Liberation Serif", serif' font-weight="bold" xml:space="preserve"><tspan x="0.00" y="0.00" fill="#111" font-size="11.50" font-style="italic">I</tspan><tspan x="4.48" y="2.30" fill="#111" font-size="8.05" font-style="italic">DS</tspan><tspan x="14.77" y="0.00" fill="#111" font-size="9.89"> (mA/mm)</tspan></text></g><path d="M482.40,679.20V754.10L494.40,757.10L490.40,760.10" fill="none" stroke="#2a2a2a" stroke-width="1.1" stroke-linejoin="miter"/><g transform="translate(572.80,803.10) scale(1.0438,1.0000)"><text font-family='"Liberation Sans", sans-serif' font-weight="normal" xml:space="preserve"><tspan x="0.00" y="0.00" fill="#111" font-size="9.00" stroke="#111" stroke-width="0.4">V</tspan><tspan x="6.00" y="2.52" fill="#111" font-size="7.65" stroke="#111" stroke-width="0.4">GS</tspan><tspan x="17.06" y="0.00" fill="#111" font-size="9.00" stroke="#111" stroke-width="0.4"> [V]</tspan></text></g></svg></body></html>
